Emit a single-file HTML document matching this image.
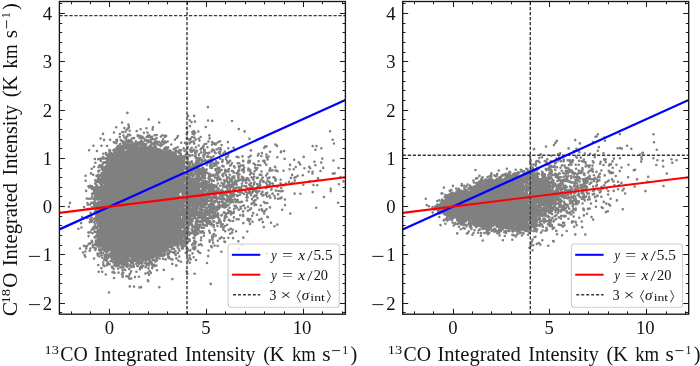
<!DOCTYPE html>
<html><head><meta charset="utf-8"><style>
html,body{margin:0;padding:0;background:#fff;width:700px;height:366px;overflow:hidden}
svg{display:block}
text{font-family:"Liberation Serif",serif;fill:#111}
.t{opacity:0.999}
</style></head><body>
<svg width="700" height="366" viewBox="0 0 700 366">
<defs>
<clipPath id="c0"><rect x="59.4" y="1.5" width="286.00" height="312.70"/></clipPath>
<clipPath id="c1"><rect x="402.70" y="1.5" width="286.00" height="312.70"/></clipPath>
</defs>
<g clip-path="url(#c0)">
<path d="M117.4 266.8L115.6 266.5L114.5 265.4L114.2 263.9L114.0 263.6L114.0 262.1L114.5 261.1L113.5 260.1L113.5 259.9L111.6 259.5L110.1 257.8L109.9 257.8L108.8 256.6L108.8 256.1L108.5 255.9L108.5 254.6L108.8 254.4L108.8 253.9L110.8 252.1L110.8 251.6L110.2 250.9L110.1 250.8L109.6 251.2L107.1 252.5L105.6 252.5L105.4 252.2L104.9 252.2L103.5 250.9L103.5 250.4L102.9 250.2L101.8 249.1L101.8 248.6L101.5 248.4L101.5 247.1L101.1 246.8L100.6 246.8L99.1 245.0L98.1 245.5L96.4 245.2L95.2 244.1L95.0 242.6L94.8 242.4L95.0 240.6L96.1 239.5L96.8 239.4L96.8 237.9L96.2 237.4L96.2 236.9L96.0 236.6L96.0 234.9L96.2 234.6L96.5 233.4L97.5 232.4L97.2 232.1L97.2 230.9L97.5 230.6L97.5 230.1L99.0 228.9L99.0 228.4L99.8 227.4L99.5 227.1L99.5 226.1L99.8 225.9L98.4 225.5L96.8 223.9L96.5 222.9L96.0 222.4L96.0 221.9L95.8 221.6L95.8 220.4L96.2 219.4L95.2 218.4L95.2 217.9L95.0 217.6L95.0 216.1L95.2 215.9L95.2 215.4L96.2 214.4L96.2 213.9L97.4 212.8L98.6 212.5L99.0 212.1L98.5 210.9L98.5 209.6L99.0 208.6L98.9 208.5L98.1 209.2L97.6 209.2L97.4 209.5L96.1 209.5L95.9 209.2L95.4 209.2L93.5 207.4L93.2 205.9L93.0 205.6L93.0 204.6L93.2 204.4L93.2 203.9L94.4 202.8L94.9 202.8L95.1 202.5L97.1 202.5L98.1 201.5L100.4 201.0L100.5 200.4L99.9 200.0L99.6 200.2L97.6 200.2L97.4 200.0L97.1 200.2L96.1 200.2L95.9 200.0L95.4 200.0L94.2 198.9L94.2 198.4L94.0 198.1L94.0 196.9L94.5 195.6L93.2 194.1L93.2 193.6L93.0 193.4L93.0 192.1L93.2 191.9L93.5 190.4L94.6 189.2L95.9 189.0L96.2 187.9L97.4 186.8L97.9 186.8L98.1 186.5L99.4 186.5L99.6 186.8L100.0 185.9L101.0 184.9L99.6 184.5L98.4 183.0L97.9 183.0L96.8 181.9L96.8 181.4L96.5 181.1L96.5 179.9L96.8 179.6L96.8 179.1L97.9 178.0L98.4 178.0L98.6 177.8L100.4 177.8L100.6 178.0L101.2 177.4L101.2 176.9L100.8 176.4L100.8 175.9L100.5 175.6L100.5 174.6L100.8 174.4L100.8 173.9L101.9 172.8L102.4 172.8L102.6 172.5L103.9 172.5L104.4 172.0L104.9 172.0L105.1 171.8L106.4 171.8L106.6 172.0L107.1 172.0L107.6 172.5L108.0 171.9L105.6 171.0L104.5 169.9L104.5 169.4L104.0 168.4L104.2 166.6L107.0 164.1L107.2 162.9L108.4 161.8L109.9 161.5L110.2 160.9L109.2 159.9L109.2 159.4L109.0 159.1L109.0 158.1L109.5 157.1L108.0 155.9L108.0 155.4L107.8 155.1L108.0 153.4L109.1 152.2L109.6 152.2L109.9 152.0L111.1 152.0L111.4 152.2L111.9 152.2L112.4 152.8L112.9 152.8L114.5 154.4L114.5 154.9L115.1 155.0L115.0 153.4L115.2 153.1L115.2 152.6L116.4 151.5L116.9 151.5L117.2 151.1L116.0 149.9L116.0 149.4L115.8 149.1L115.8 147.6L116.0 147.4L116.0 146.9L118.4 144.8L120.1 144.5L120.4 144.8L120.9 144.8L122.1 146.0L122.5 144.6L123.9 143.2L124.4 143.2L124.6 143.0L126.1 143.0L126.4 143.2L126.9 143.0L128.1 143.0L130.1 144.0L132.4 142.8L134.1 143.0L135.1 142.0L135.6 142.0L135.9 141.8L137.4 141.8L137.6 142.0L138.1 142.0L139.2 143.1L139.2 143.6L139.5 143.9L139.2 145.6L138.1 146.8L137.9 146.8L137.9 147.0L138.4 147.0L139.4 146.5L140.4 146.5L140.6 146.8L141.0 145.6L142.1 144.5L142.6 144.5L142.9 144.2L144.6 144.2L144.9 144.5L145.4 144.5L146.5 145.6L147.1 147.2L148.4 145.8L149.6 145.2L150.6 145.2L150.9 145.5L151.4 145.5L153.1 147.0L154.4 146.5L155.4 146.5L155.6 146.8L156.1 146.8L157.9 148.2L159.4 148.2L160.6 148.8L161.8 149.9L162.1 152.0L163.1 151.0L163.6 151.0L163.9 150.8L165.1 150.8L165.4 151.0L165.9 151.0L166.6 151.8L168.1 150.0L168.6 150.0L168.9 149.8L170.1 149.8L170.4 150.0L170.9 150.0L171.9 151.0L173.1 151.8L174.4 151.8L174.6 152.0L175.1 152.0L176.8 153.6L177.0 155.1L177.9 156.0L178.4 155.5L178.9 155.5L179.9 155.0L181.4 155.0L181.6 155.2L182.1 155.2L183.2 156.4L183.2 156.9L183.5 157.1L183.5 158.1L183.2 158.4L183.2 158.9L182.8 159.4L182.8 159.9L184.8 161.6L184.8 162.1L185.0 162.4L185.0 163.6L184.8 163.9L184.8 164.4L185.5 166.1L185.5 167.6L185.2 167.9L185.0 169.1L184.0 170.1L184.5 170.9L184.5 171.4L186.0 172.9L186.0 173.4L186.2 173.6L186.2 175.6L186.0 175.9L186.2 176.1L186.2 177.9L186.0 178.4L186.4 178.8L187.6 177.5L188.1 177.5L188.4 177.2L190.1 177.2L190.4 177.5L191.6 177.5L191.9 177.8L193.9 177.8L194.1 178.0L194.6 178.0L196.4 176.2L197.0 176.1L196.9 175.8L196.4 175.8L195.2 174.6L195.0 173.4L194.8 173.1L195.0 171.4L196.1 170.2L197.1 170.0L198.4 168.5L198.9 168.5L199.1 168.2L200.1 168.2L200.6 168.5L201.1 168.0L201.6 168.0L201.9 167.8L203.6 168.0L204.8 169.1L204.8 169.6L206.2 170.9L206.2 171.4L206.5 171.6L206.5 172.6L206.2 172.9L206.2 173.4L205.8 173.9L206.0 174.1L206.0 175.4L205.5 176.4L204.6 177.2L204.1 177.2L203.9 177.5L202.9 177.5L202.0 177.1L201.0 176.1L200.4 174.0L200.2 174.6L199.1 175.8L198.6 175.8L198.2 176.1L200.1 176.5L201.2 177.6L201.2 178.1L201.5 178.4L201.2 180.1L200.2 181.1L200.2 181.6L198.8 183.1L199.1 183.2L199.4 183.0L200.1 183.0L202.6 180.5L203.9 180.2L204.1 180.0L205.4 180.0L205.6 180.2L206.9 180.5L208.0 181.6L208.0 182.1L208.2 182.4L208.2 183.4L208.0 183.6L208.6 184.2L210.1 184.2L210.4 184.5L210.9 184.0L211.4 184.0L211.6 183.8L212.6 183.8L212.9 184.0L214.1 184.2L215.5 185.6L215.5 186.1L215.8 186.4L215.5 188.1L214.4 189.2L213.8 189.4L213.5 190.4L213.6 190.5L214.1 190.0L214.6 190.0L214.9 189.8L215.9 189.8L216.1 190.0L216.6 190.0L217.4 190.8L218.0 191.9L218.0 192.9L217.8 193.1L217.8 193.6L217.0 194.4L217.0 194.9L215.9 196.0L215.4 196.0L215.1 196.2L213.9 196.2L213.6 196.0L213.1 196.0L211.5 194.4L211.5 193.9L211.2 193.6L211.2 192.6L211.5 192.4L209.4 192.0L208.0 190.6L207.6 189.5L205.9 191.2L204.1 191.5L203.9 191.2L203.4 191.2L202.2 190.1L201.8 188.4L201.1 188.0L200.6 188.0L199.2 189.4L199.9 189.8L201.4 190.0L202.5 191.1L202.5 191.6L202.8 191.9L202.6 193.2L203.1 193.5L203.6 193.0L204.1 193.0L204.4 192.8L205.6 192.8L205.9 193.0L207.1 193.2L209.5 195.6L209.5 196.1L209.8 196.4L209.5 198.1L207.6 200.0L205.8 200.4L206.4 200.5L207.5 201.6L207.5 202.1L207.8 202.4L207.8 203.9L207.5 204.1L207.5 204.6L206.4 205.8L205.8 205.9L205.2 206.9L204.1 208.0L203.6 208.0L203.4 208.2L202.1 208.2L201.9 208.0L201.4 208.0L199.6 206.2L198.5 206.6L198.8 206.9L198.8 207.9L198.5 208.1L198.5 208.6L197.5 209.6L197.8 209.9L197.8 210.4L199.5 211.9L199.8 213.4L201.6 213.8L202.6 214.8L203.6 214.5L203.8 214.1L203.5 213.9L203.5 212.9L203.8 212.6L203.8 212.1L204.2 211.6L204.2 211.1L205.4 210.0L205.9 210.0L207.6 209.2L209.1 209.2L209.6 209.5L209.8 209.4L208.5 208.1L208.5 207.6L208.2 207.4L208.2 205.4L208.5 205.1L208.5 204.6L210.6 202.8L211.1 202.8L211.4 202.5L212.6 202.5L212.9 202.8L213.4 202.8L214.5 203.9L214.8 205.1L215.5 205.9L215.5 206.4L215.8 206.6L215.5 208.4L214.4 209.5L213.9 209.5L213.6 209.8L212.6 209.8L212.4 209.5L212.1 209.8L210.0 209.6L211.0 210.6L211.0 211.1L211.2 211.4L211.0 213.1L208.9 215.5L208.4 215.5L208.1 215.8L206.9 215.8L206.5 216.1L206.8 217.1L207.9 217.5L209.0 218.6L209.5 219.9L209.2 221.6L208.1 222.8L207.6 222.8L207.4 223.0L205.6 222.8L204.1 221.8L202.6 221.5L201.5 220.4L201.2 219.1L200.9 218.8L199.1 218.5L198.0 217.4L197.6 215.8L197.4 216.0L196.1 216.0L195.9 215.8L195.4 215.8L194.9 215.2L193.6 215.8L192.4 215.8L192.1 215.5L191.6 215.5L190.6 214.5L190.0 214.9L191.2 216.1L191.2 216.6L191.5 216.9L191.5 218.4L191.2 218.6L191.2 219.1L190.1 220.2L189.6 220.2L189.4 220.5L188.4 220.5L187.4 220.0L186.9 221.0L185.6 222.2L185.0 222.4L184.8 223.4L183.8 224.4L183.8 224.9L182.6 226.0L182.1 226.0L181.9 226.2L179.8 226.1L181.0 227.4L181.2 229.1L183.1 230.8L183.5 229.9L183.8 228.1L184.9 227.0L185.4 227.0L185.6 226.8L186.9 226.8L187.1 227.0L187.6 227.0L188.8 228.1L188.8 228.6L189.0 228.9L189.0 230.1L188.8 230.4L189.0 230.6L189.0 232.1L188.8 232.4L188.8 232.9L187.6 234.0L187.1 234.0L185.6 235.8L185.1 235.8L184.9 236.0L183.5 235.9L183.8 236.4L183.5 238.1L182.1 239.5L181.6 239.5L181.4 239.8L180.4 239.8L180.1 239.5L179.5 240.1L180.0 241.1L180.0 242.4L179.8 242.6L179.2 244.6L178.1 245.8L176.4 246.0L176.1 246.2L174.9 246.2L173.9 245.8L172.4 247.2L170.6 247.5L169.8 247.1L168.8 246.1L168.8 245.6L168.2 244.9L167.9 244.8L167.5 245.1L167.5 246.4L167.2 246.6L167.2 247.1L166.1 248.2L165.5 248.4L165.2 250.1L164.1 251.2L162.9 251.5L162.5 251.9L162.0 252.9L162.2 253.4L162.2 254.6L162.0 254.9L162.0 255.4L160.9 256.5L159.1 256.8L158.1 257.8L156.4 258.0L154.9 257.2L153.1 259.0L152.6 259.0L152.4 259.2L150.9 259.2L149.9 260.2L149.4 260.2L149.1 260.5L147.4 260.5L147.1 260.8L145.1 260.8L144.9 260.5L144.4 261.0L143.9 261.0L143.6 261.2L142.1 261.2L141.9 261.0L141.4 261.0L140.6 260.2L140.2 260.6L140.0 261.6L138.9 262.8L138.4 262.8L138.1 263.0L137.1 263.0L136.9 262.8L136.4 262.8L135.6 262.0L134.6 262.0L134.4 261.8L133.1 261.5L132.0 260.4L132.0 259.9L131.8 259.6L131.8 258.6L132.0 258.4L131.6 258.0L131.1 257.8L129.1 257.8L129.0 257.9L129.5 258.4L129.5 258.9L129.8 259.1L129.5 260.9L127.6 262.8L126.4 263.0L126.0 263.4L125.8 264.4L124.6 265.5L124.1 265.5L123.9 265.8L122.6 265.8L121.4 265.2L120.4 264.2L119.9 264.2L119.6 264.0L119.2 265.4L118.1 266.5L117.6 266.5L117.4 266.8ZM123.0 148.1L122.8 148.1L123.0 148.1ZM125.0 150.9L125.9 150.5L126.6 150.5L126.8 150.1L126.1 149.5L125.6 149.5L124.9 149.0L123.9 148.8L123.8 148.9L124.2 149.4L124.2 149.9L124.5 150.1L124.5 150.9L125.0 150.9ZM117.0 156.9L116.9 156.5L116.8 156.9L117.0 156.9ZM189.9 177.0L188.6 177.0L188.4 176.8L187.9 176.8L186.8 175.6L186.8 175.1L186.5 174.9L186.5 173.4L186.8 173.1L186.8 172.6L187.2 172.1L187.2 171.6L188.6 170.2L189.1 170.2L189.4 170.0L190.8 170.1L190.0 169.4L189.8 167.6L190.0 167.4L190.0 166.9L191.1 165.8L191.9 165.5L193.1 164.0L194.6 163.8L195.0 163.4L195.2 162.1L196.4 161.0L196.9 161.0L197.1 160.8L198.9 161.0L200.5 162.6L200.5 163.1L200.8 163.4L200.5 165.1L199.4 166.2L198.1 166.5L197.5 168.1L196.1 169.5L195.6 169.5L194.4 170.8L193.9 170.8L193.6 171.0L192.6 171.0L192.4 170.8L192.0 170.9L193.0 171.9L193.2 173.1L193.5 173.4L193.2 175.1L192.1 176.2L191.6 176.2L189.9 177.0ZM191.8 170.6L191.5 170.6L191.8 170.6ZM200.8 173.4L200.5 173.4L200.8 173.4ZM181.2 179.9L181.5 178.9L181.1 178.2L181.0 179.9L181.2 179.9ZM183.5 189.1L184.9 187.8L185.5 187.6L184.8 186.9L184.8 186.4L184.5 186.1L184.5 184.9L184.8 184.6L184.8 184.1L185.9 183.0L187.8 182.6L186.1 181.2L185.1 182.2L184.6 182.2L184.4 182.5L183.4 182.5L183.1 182.2L182.8 183.9L181.8 184.9L182.4 185.0L183.5 186.1L183.5 186.6L183.8 186.9L183.8 187.9L183.2 188.9L183.2 189.1L183.5 189.1ZM188.5 182.9L188.2 182.9L188.5 182.9ZM198.2 183.6L198.5 183.4L198.4 183.2L198.0 183.4L198.0 183.6L198.2 183.6ZM103.5 184.6L103.4 183.5L102.5 184.4L103.4 184.8L103.5 184.6ZM222.6 196.8L220.9 196.5L219.8 195.4L219.5 193.9L219.0 192.9L219.2 191.1L220.4 190.0L220.9 190.0L221.1 189.8L222.9 190.0L224.2 191.4L224.2 191.9L224.8 192.4L224.8 192.9L225.0 193.1L225.0 194.4L224.8 194.6L224.8 195.1L223.4 196.5L222.9 196.5L222.6 196.8ZM181.5 197.9L182.4 197.0L182.9 197.0L183.1 196.8L184.4 196.8L185.4 197.2L185.8 196.6L185.8 196.1L184.9 195.5L184.6 195.8L182.9 195.5L181.8 194.4L181.5 192.9L181.1 192.5L180.4 192.5L179.8 193.1L179.2 195.1L179.9 195.2L181.0 196.4L181.2 197.9L181.5 197.9ZM102.2 194.1L101.1 193.2L101.0 193.4L101.4 194.0L101.9 194.2L102.2 194.1ZM198.8 195.6L198.6 195.2L198.0 195.1L198.6 195.8L198.8 195.6ZM230.1 202.2L228.6 202.2L228.4 202.0L227.9 202.0L226.8 200.9L226.8 200.4L226.5 200.1L226.5 198.9L226.8 198.6L226.8 198.1L228.1 196.8L228.6 196.8L228.9 196.5L230.6 196.8L232.0 198.1L232.0 198.6L232.2 198.9L232.2 200.1L232.0 200.4L232.0 200.9L230.9 202.0L230.4 202.0L230.1 202.2ZM199.8 198.6L199.1 197.5L199.0 198.1L199.6 198.8L199.8 198.6ZM181.2 198.6L181.1 198.2L181.0 198.6L181.2 198.6ZM180.5 200.4L181.0 199.6L180.9 199.0L180.2 200.1L180.2 200.4L180.5 200.4ZM205.5 200.1L204.6 199.8L204.5 199.9L204.6 200.2L205.5 200.1ZM183.8 209.1L184.6 208.8L186.1 208.8L187.6 207.0L188.1 207.0L188.4 206.8L190.1 207.0L191.1 208.0L191.6 208.0L191.8 207.4L191.5 207.1L191.5 205.9L191.8 205.6L191.8 205.1L192.2 204.6L192.2 203.6L191.9 203.5L191.5 203.9L191.5 204.4L190.1 205.8L189.6 205.8L189.4 206.0L188.1 206.0L187.9 205.8L187.4 205.8L186.2 204.6L185.8 203.4L185.6 202.0L185.2 203.1L184.2 204.1L184.8 204.6L184.8 205.1L185.0 205.4L184.8 207.1L183.6 208.2L183.1 208.2L182.5 208.6L183.1 208.8L183.6 209.2L183.8 209.1ZM225.1 208.5L223.4 208.2L222.2 207.1L222.2 206.6L222.0 206.4L222.0 205.1L222.2 204.9L222.2 204.4L223.4 203.2L223.9 203.2L224.1 203.0L225.4 203.0L225.6 203.2L226.1 203.2L227.2 204.4L227.2 204.9L227.5 205.1L227.2 206.9L225.9 208.2L225.4 208.2L225.1 208.5ZM180.8 208.6L181.5 208.4L180.6 208.0L180.0 208.1L180.4 208.8L180.8 208.6ZM181.5 218.6L182.2 218.4L182.1 216.0L181.0 216.1L181.2 216.6L181.2 218.1L181.0 218.6L181.5 218.6ZM102.2 223.9L102.0 223.9L102.2 223.9ZM195.9 235.8L194.1 235.5L193.1 234.8L192.0 233.6L191.8 231.9L192.0 231.6L192.0 231.1L193.1 230.0L194.5 229.6L194.5 229.1L194.2 228.9L194.5 227.1L195.6 226.0L197.4 225.8L197.6 226.0L198.1 226.0L199.2 227.1L199.5 228.9L199.2 229.1L199.2 229.6L198.1 230.8L197.5 230.9L197.8 232.4L198.0 232.6L197.8 234.4L196.6 235.5L196.1 235.5L195.9 235.8ZM101.8 233.6L101.5 233.6L101.8 233.6ZM124.5 258.4L124.8 258.1L124.6 258.0L124.2 258.1L124.2 258.4L124.5 258.4Z" fill="#808080" fill-rule="evenodd"/>
<path d="M0 0m207.9 107.1h0m-80.5 5.8h0m60.6 3h0m6.1 0h0m-72 6.6h0m26.6-3.1h0m10.5 3.1h0m30.5-2.2h0m1.8 1.8h0m3.5-0.5h0m13-1.1h0m4.1 0.4h0m19.9 0.1h0m-115.8 6.3h0m8.2 0.8h0m3.8 0.2h0m0.2-3.8h0m0.5 3.1h0m0-1.2h0m17.6 1.8h0m6.4-0.8h0m33.8 0.5h0m3.2-1.8h0m15.9 0.9h0m-102.8 6.9h0m11-1.4h0m5.9 1.5h0m2.5-2h0m0.5 0.2h0m2.6-0.4h0m1.2-2.1h0m1.4 4.9h0m1.5 0.1h0m0.1-3.9h0m7 0.3h0m3.9-1.8h0m3.3 3.4h0m3.6-0.1h0m5.1-3h0m34.2 4.2h0m0 0.7h0m0.6-2.4h0m4.9-0.1h0m0.3 1.7h0m0.7-0.9h0m0.2 0.9h0m0.3-2.6h0m0.3 3.4h0m1-1.7h0m3.2-1.3h0m40.5-2.4h0m5.8 2.3h0m85.5-0.1h0m-229.5 7.2h0m3.5 1.4h0m6-0.1h0m6.3 0.2h0m0.3 1h0m0.3-1.1h0m2.8-2.9h0m1 3.1h0m1.1 0.8h0m1.6-5.3h0m1 1.9h0m1 0.9h0m0.7 0.7h0m0.6-2.4h0m0.6-0.3h0m1.6 4h0m1.2-5.2h0m1 4.7h0m1.4-1.6h0m1.5-0.2h0m3.6-2.1h0m0.1-0.7h0m1.8 2.6h0m0.5-0.1h0m0-1.9h0m0.6 1.7h0m0.3-1.1h0m0.7 2h0m0.8-1.8h0m1.2 1.5h0m1.4 2.4h0m0.5-0.9h0m1.1-2.7h0m0.2 3.9h0m0.8-0.4h0m0.3-4.6h0m0.4 4.8h0m0.3-3.7h0m0.2 3.3h0m0.3-5h0m1.5 1.5h0m0.5 3.6h0m0.1-2.5h0m0.7 0.5h0m0-1.6h0m0.5 2.1h0m2.1-3.6h0m0.3 3.9h0m1.7-4.1h0m0 3.1h0m4.3-1.6h0m1.7-1.4h0m0.5 4.1h0m1.8-2.4h0m0.1-1.1h0m1.1 0.1h0m8.9 3.7h0m2-1.8h0m0.9-1.8h0m9 2.8h0m0-0.5h0m1.9 0.9h0m0.9 0.7h0m0.8-1h0m1.6-1.9h0m2.2 0.6h0m1.4 2h0m3-0.8h0m0.8 1.8h0m1.2-3.6h0m8.7-1.6h0m0.2 3h0m39.8 0.4h0m13.8-1.3h0m69.4 2.3h0m-239.1 6h0m8 0h0m5.5 0.2h0m6.9-3.7h0m0.4 0.1h0m2.1 0.8h0m0.5-2.2h0m1.2 5.1h0m1.8-1.1h0m0.3-0.9h0m0.5 2.4h0m1.5 0h0m0.3-5.1h0m0.6 1.5h0m0.3 3.9h0m0.1-1.1h0m0-1.2h0m0.3-2.8h0m0 3.8h0m1.2-3h0m1.3-1.1h0m0.8 2.9h0m0.4-3.2h0m0.3 3.4h0m0.6-2.1h0m0.2 2.2h0m0.6 0.5h0m1.1 0.1h0m0.1-3.2h0m0.2 3h0m0.8-0.4h0m0.1-0.1h0m0.7-2.5h0m1.3 2.2h0m1.3-0.3h0m0.7-0.8h0m0.3-1h0m0.1-0.7h0m0.9 1.2h0m0.5 2.8h0m0.4-1.4h0m0.4 0.6h0m0.3 0.1h0m0.2-0.6h0m0.6-1.8h0m1.1 0.8h0m0.4 2h0m0.5-4h0m0.2 2.5h0m0.4-0.1h0m0.3-0.1h0m0.5 1.6h0m0-3.1h0m0.5 0.6h0m1.7 2.2h0m0.2-0.7h0m0.2 0.4h0m0.1 0.1h0m0.1 1.1h0m0.1-1.3h0m0 1.5h0m0.6-1.4h0m1.9-2.2h0m0.2-0.1h0m0.3-0.5h0m0.5 5.1h0m0.1-5.5h0m1.5 4h0m0.1-2.6h0m0.6 2.7h0m0.7-2h0m0.9 0.5h0m1.1-0.8h0m0.3 1.4h0m0 1.2h0m0.1 0.4h0m0.5-4.8h0m0.6 2.4h0m0-0.6h0m0.4 3.6h0m1.1-5h0m0.5 2.1h0m1 1.1h0m0.8-2.7h0m1.2 3.3h0m0 0.7h0m0.6-2.8h0m1-1.8h0m0.1 3.5h0m1.8-1.6h0m0.2-1.5h0m0.8-0.3h0m0.9 0.8h0m1.8-0.9h0m3.5 3h0m10-1.8h0m3.8 0.2h0m1.6 1.5h0m2.9-0.8h0m0.2-0.8h0m1.8-0.9h0m2.1-0.7h0m0.6 2.4h0m0.1-0.6h0m4.4 2.5h0m4.4 0.8h0m0.2 0.6h0m0.2-0.9h0m1-1.7h0m1.8-0.5h0m2.2-2.3h0m3.5 3.1h0m0.3-2.5h0m1.7 1.5h0m1.7 0.8h0m0.3-0.9h0m2.1-1.3h0m1.9-1h0m1.6 3.9h0m6.3-3h0m37.2 4.4h0m1.3-0.1h0m9-1.9h0m1.6 1.4h0m35.7 0.2h0m3.8 0h0m17.4-2.6h0m-244.8 6.8h0m7.9 0.7h0m12.4-1h0m0.1 1.1h0m0.2 1.5h0m0.4-2.1h0m0.8 2.5h0m2.5-2.6h0m0.9-0.7h0m0.7-0.5h0m0.4 2.5h0m1.2-3.4h0m0.1 0.4h0m0.2 4.2h0m0-3.4h0m0.4-2.5h0m0.7 4.9h0m0.6-0.8h0m3.1-2.1h0m1.5 1h0m0.4-0.4h0m0.3-2.1h0m0.5-0.1h0m0.9 4.9h0m0.4-4.3h0m0 3.9h0m1.5-3.1h0m0 0h0m0.8 1h0m0.1-0.2h0m9.4-1.3h0m0.7 0h0m1.2-0.7h0m2-0.2h0m4.3 0.6h0m0.2-0.6h0m0.1 0.9h0m0.3 0h0m2.3-1.3h0m2.7 0.5h0m0.6 0.3h0m2.3 0h0m2.4 0.9h0m0.6 0.9h0m1.2-0.3h0m1.4 0.4h0m1 1.6h0m0.7-1.1h0m1.9 1.4h0m0.7-2.8h0m0.2 0.6h0m0.6 2.8h0m0.3-3h0m0.1 0.7h0m0.1 0.6h0m0.1 1.9h0m0.2 0.3h0m0.1-5.3h0m1.4 0.8h0m0.2 1.1h0m0.5 2.5h0m0.2-4.4h0m0.4 3.6h0m0.7 0h0m1-0.5h0m1.1 1.4h0m0.9 0.9h0m0.2 0h0m1.4-3.7h0m0.7 3.1h0m0.7-3.1h0m0.1 3h0m0.4-1.8h0m0.1-2.3h0m1.3 3.3h0m0.6-4h0m0.7 5.1h0m0.6 0.5h0m0.3-1.4h0m0.2-1.4h0m0.5 1.7h0m0.4-1.3h0m0.8-0.2h0m2.5-1.9h0m0.9 2.5h0m1.9-1.4h0m0.7 2.8h0m0.5-4.7h0m0.1-0.4h0m2.2 2.6h0m0.7 1.4h0m0.1-1.1h0m0.8 1.8h0m0.1-4.1h0m0.9 2.9h0m0.1-0.1h0m1.3-0.1h0m0-0.7h0m1.1 3.1h0m0.8-5.7h0m0.6 4.7h0m0.2-1.1h0m0.3 0h0m3.6-1.3h0m0.3 2.9h0m0.1-3.5h0m0.3 3.7h0m0.5-4.4h0m1.2-0.3h0m1.1 4.1h0m0.1-2h0m0.4 0.5h0m0.1 1.2h0m0.1-1.6h0m2.6-2.8h0m1.6 5.4h0m2.7-1.3h0m0.9-1.8h0m1.4 0.7h0m0.8 1.9h0m1.9-2.7h0m2.1-1.1h0m0 4.4h0m0.2-0.2h0m0.1-0.6h0m1.1-0.2h0m0.3-3.4h0m0.2 1.4h0m4.1 1.7h0m3.5-3.2h0m0.7 4.3h0m2.6-1.3h0m1.9-3.6h0m1.4 2.2h0m16 0.5h0m13.3-2.7h0m5.9 4.1h0m10.8 0.5h0m0.2-0.7h0m3-0.5h0m31.3-1.3h0m5.9-1.5h0m-226.4 10.7h0m4.6-0.3h0m2-0.2h0m1.2 0h0m0.5-1.4h0m0.1-3.4h0m0.9 4.7h0m1.7-5.3h0m0.1 5.2h0m0.2-3.5h0m0.7-0.2h0m0.6 3.6h0m0.3-1.3h0m0-1.5h0m0.2 0.1h0m0.3 2.4h0m0.4 0.3h0m0.3-4.3h0m0.3 1.6h0m0.7 2.9h0m0.6-0.7h0m2.1-3.6h0m0.5 1.1h0m0.6-1.9h0m0.6-0.3h0m0.2 0.2h0m0.7 3.8h0m0.2-1.1h0m0.2-2.5h0m0.2 0.4h0m0 1.4h0m2.1 0.7h0m43.5-2.9h0m14.3 1.4h0m0 1.7h0m0.7 0.1h0m0.2 0.5h0m1.5 0.6h0m0.6-0.4h0m0.3-0.6h0m1.5-0.4h0m0.1-1.3h0m0.2-0.7h0m0.7 4.3h0m0.3-1h0m0 0.1h0m0.5 0.3h0m0.5-1.4h0m0.9 2.1h0m1.2-0.7h0m0.1-1.6h0m0 1.6h0m0.1-1.9h0m0.7-1.5h0m0.9-0.4h0m0.2-0.5h0m0.2 3.6h0m0.8 1.3h0m0.9-3.2h0m0.6 0.1h0m0.5 0.8h0m2.4-0.6h0m2.7 1h0m0.3-1.4h0m0.6 3.3h0m0-1.4h0m1.7 2.1h0m0.4-0.6h0m0.3 0.6h0m0.3 0h0m0.1-4.7h0m0 4.2h0m0.2-3.3h0m1.1 3h0m3.2-2.1h0m0.3-1.1h0m0.1 2.7h0m1-3h0m2-1.6h0m0.3 3.7h0m0.7-0.6h0m0.6 0.5h0m0.1-3.3h0m0.8-0.2h0m1.5 4.3h0m1.1 0.5h0m1.8-1.7h0m2.1-3h0m4.4 5.5h0m0.1-4.4h0m3.2-0.8h0m2.6 5.4h0m0.1-1.8h0m0.5-3.5h0m1.4 2.8h0m0.3-2.1h0m8.4 2.5h0m1.8 0.5h0m4-0.9h0m6.2 0.9h0m1.9-1.4h0m7.3-0.3h0m0.7-1.9h0m2.7 2.3h0m0.6-2.9h0m4.5 1.5h0m0.1 2.6h0m2-0.6h0m8.8 0.6h0m7.3 1.7h0m19.1-2h0m18.6 1.7h0m-226.9 4.2h0m2.8-3.6h0m2 0.1h0m0.6 1.6h0m1.8 3.5h0m0.1-0.7h0m0.6-1.2h0m0 0.2h0m0.4-0.1h0m0.8-0.3h0m1 0.1h0m0.3 0.6h0m0.4-0.7h0m0.2-3.1h0m1 1.6h0m0.6 2.8h0m0.1-3.6h0m0.4 0.9h0m0 1.3h0m1.4-3h0m1.2 2.6h0m0.3-1.6h0m69.8-0.6h0m0.8 1.5h0m1.2 1.5h0m0.2 2h0m0.2-1.7h0m0-1h0m0.5-0.5h0m0.3 0.7h0m0-2.3h0m0.2 2.4h0m0.3 0.1h0m1.7 0.6h0m0.3-0.7h0m0.3-0.6h0m0.2 1.5h0m0.3-0.2h0m0-0.2h0m0.1-3.7h0m0 2.4h0m0 2.4h0m0.9-1.6h0m0.2 1.1h0m0-0.7h0m0.9 0.7h0m0.2 1.1h0m0.8-2.2h0m0.9-1h0m0 0.8h0m0.9 1.5h0m2.4 1.2h0m0.9-2.2h0m0.3 1.1h0m0.3-2.5h0m1 3.8h0m0.5-4.8h0m0.2 1h0m0.2-1.9h0m0.1 2.9h0m0.6 2.1h0m0-4.8h0m0.1 4.2h0m0-0.4h0m0.4-3.6h0m0.8-0.3h0m0.1 5.5h0m0.9-1.2h0m0 0.8h0m0.2-3.3h0m0.3-1.3h0m0.7 1.8h0m0.2-0.5h0m0.1-0.3h0m1.9 0.3h0m0.3-1.1h0m1.2 2.9h0m0.9-1.9h0m0.4 2h0m0.7-0.6h0m0.2-0.6h0m0.4-1.4h0m0.7 2h0m1 2.2h0m0.1-2.3h0m0.2 1.5h0m0-4.7h0m1.1 0h0m0.2 1.9h0m1.2 2.2h0m0.4 0.4h0m2.1-0.4h0m0.1-1.9h0m0.4 1.3h0m0.8-0.2h0m1 0.5h0m3.9-1.1h0m0.5-2h0m0 1.5h0m4.5-0.5h0m0.2 2.5h0m1.5-0.9h0m1.4-1.6h0m1.8 2.4h0m5.7 0.1h0m1.5 0h0m3.8-2.6h0m0.4 0.6h0m4.7 1.2h0m0.6-1.6h0m0 1.4h0m0.3-0.4h0m0.4 0.7h0m0.6-1.7h0m3.6 2.6h0m1.6 1.4h0m3.5-3.6h0m4.6-0.4h0m1.1-0.2h0m0.5 2h0m1.4 2h0m1.3-5.3h0m22.5 5.5h0m4.1-5.2h0m4.6 2.7h0m1.4 2h0m14.2-2.6h0m6.8 0.8h0m12.2-2.1h0m-241.6 8.3h0m2.3-2.1h0m4.4 0.5h0m0.3 3.7h0m0.1-3.9h0m0.1-0.2h0m0.4 3.8h0m0-4.8h0m0.6-0.5h0m1.3 1.7h0m0.4 0.2h0m0.1 1.4h0m0.2 0.7h0m0.3-3.5h0m0.1-0.7h0m0.2 4.7h0m0.3-1.9h0m0.2 2.8h0m0.1-0.2h0m0.1-3h0m0.5 0.5h0m1.4-0.1h0m0.1-0.8h0m0.2 2.6h0m0.3-3.2h0m1.1-1h0m0.6 4.7h0m0.9 0.4h0m74.1-0.4h0m1.6-1.6h0m0.7-2.2h0m1.1 2.9h0m1-2.3h0m0.4 0.5h0m0.9 0.4h0m0.3 2.7h0m0-3.9h0m0.1-0.9h0m0 2.4h0m0.2 0.9h0m0.5-1.1h0m0.7-0.8h0m0.1 3.4h0m0.1-1.5h0m0.1-0.9h0m0.9 0.5h0m0 0.2h0m0.3-0.1h0m0.3-2.1h0m1.2 3.7h0m0.1-5.1h0m0.1 4.3h0m0.3 0.1h0m0.6-1h0m1.9 2.1h0m0.3-2.5h0m0.2-1.6h0m1-1.5h0m0.1 0.1h0m0.5 5.5h0m0.1-0.4h0m0.4-1.1h0m0.2-0.2h0m0-0.5h0m0.2-3h0m0.1 3.7h0m0.4-3.3h0m0.3-0.9h0m1.3 4.3h0m1.1-1.5h0m0.6 0.2h0m0.4-0.1h0m0.2 2.4h0m0.3-1.8h0m1.6 2h0m0.1 0.1h0m0.8-1h0m0.5-0.2h0m0-4.4h0m3.2 0.6h0m0.6 2h0m0.9-2.4h0m0.5 2.6h0m1.8-1.9h0m0.2-0.4h0m0.9-0.4h0m0.7 4.9h0m0.1-1.1h0m0.8-3.7h0m0.7 3.8h0m0.6-1.3h0m1.1 2.7h0m0.5-2.4h0m0.2-0.2h0m0.9 2.5h0m1.3-0.4h0m0.6-4.1h0m1.3 0.5h0m1.6 4.4h0m0.1-0.9h0m3.1 0h0m0.6-0.8h0m1.2-3.5h0m0.5-0.3h0m1.2 5.7h0m2.1-4.7h0m0.6 1.1h0m4.2-0.6h0m0.1 3h0m0.2 1.2h0m0.2-4.6h0m0.1 1h0m1.6-1.8h0m0.9 4.3h0m1.3-4.5h0m0.5 3.4h0m0.1 1.5h0m0.4-2.8h0m4.1 2.8h0m0.1-1.7h0m1.6 1.3h0m5.2-2.1h0m1.1 2h0m1-1.7h0m0.7-3.1h0m2.3 0.2h0m9 5.2h0m0.9-2.1h0m0.6 2.3h0m1.7-0.3h0m2.4-3.5h0m0.4 0.5h0m0.3 3.2h0m1 0.3h0m6.9-0.1h0m6.1-1.5h0m4.1 0h0m2-2.2h0m8.7 1.2h0m4.8-1.3h0m1 1.4h0m5.2-3h0m7.8 2.6h0m15.4 0.1h0m-253 7.7h0m5.4-2.3h0m2.2 1.4h0m3.3 1.1h0m1-0.5h0m0.2 1.2h0m0.5 0.1h0m0.1-5.2h0m0.3 3.4h0m0.6 1.3h0m0.4-0.2h0m0.8-0.8h0m1.1-1.8h0m0.3 1.9h0m0.4-2h0m0.1 2.9h0m0-2.3h0m0.1-0.5h0m1.9 0h0m0.4-2.4h0m0.1 2.3h0m0.3-2h0m0.8 1.3h0m0.3 0.2h0m2.4 0.5h0m0.4-0.6h0m0.3-1.1h0m73.7-0.6h0m0.6 1.3h0m0.8 0.8h0m0.2 2.1h0m0.4-0.7h0m0.1 0.2h0m2.1-1.2h0m0.3 0.4h0m0.4 2.7h0m0.1-5.6h0m0.1 4.4h0m0.3-2.8h0m1.3 3h0m1.5-3.5h0m0.3-0.1h0m0.2 1.1h0m0.1 2.1h0m0.1-2.8h0m0.6 3.4h0m0.3-1.5h0m0.7 2h0m0.1-0.5h0m0.2-0.8h0m0.8-3.5h0m0.2 0.9h0m0.3-1.3h0m0 0.9h0m0.2 0h0m0.5-0.2h0m0.2 0.8h0m0.4 2.1h0m0-1.1h0m1.3 1.2h0m1.5 2.1h0m0-4.2h0m0.4 1.7h0m1.4-2.3h0m0 0h0m0.7 2.1h0m0.1 0.2h0m0.3 1.6h0m0.6 0.4h0m1-0.5h0m0.5-0.7h0m0.1-1.1h0m0.8 1h0m1-2.7h0m1.1 0.5h0m1.7 0.9h0m0.3 1.8h0m0.5 1.3h0m0-3h0m0.5 1.3h0m0.3-0.4h0m1.3 1h0m1.1-1.1h0m1.1 1h0m1.6-1.2h0m0.3 0.1h0m0.9-2.4h0m0.4 1.3h0m0.4-1.2h0m0 2h0m0.5 2h0m0.4 0.3h0m0.6-4.3h0m0.4 0.1h0m2.7 2.8h0m0.9 1.1h0m0.1-2.4h0m0 2.1h0m1.9-3.5h0m0.9 2.6h0m1-4h0m1.5 0.3h0m1.2 3.4h0m2.7 2.1h0m0.8-5.6h0m0.5 1.5h0m0.6 3.6h0m2.2-3.3h0m1.4 1.7h0m0.2-1.2h0m0.1-2.2h0m1.2 3.1h0m2.6 2.2h0m1.8-4.6h0m6.2 2.4h0m0.6-2.6h0m0.7 1.2h0m2.4 1h0m0.5 2.7h0m0.4-5.5h0m5.1 3.5h0m1.6 0.1h0m0.2-3.4h0m4.6 4.1h0m1.3-2.1h0m10.2-2.2h0m14.5 3.6h0m5.6 0.9h0m5.1-0.5h0m5.9-3.5h0m3.8-0.1h0m0 1.8h0m8-2.5h0m12.4 2.6h0m1.7-0.2h0m5.9 3.6h0m-254.8 3.8h0m9.6-0.4h0m1.4 1.6h0m0.1-1.1h0m1.2 0.5h0m0.1-2.2h0m0.5 2.3h0m0.2-4.2h0m0 2h0m0.3-0.8h0m0.2-0.2h0m2.6 0.2h0m0.2 0.1h0m0.2-0.3h0m0.3-0.7h0m0.1 4.6h0m76.8-2.6h0m0.2-2.2h0m0.2 1.4h0m0.6 2.2h0m1.2-3.9h0m0.3 5.5h0m0.1-0.2h0m0.2-1.3h0m0.1-2.9h0m0 1.3h0m0.3 1.7h0m1.4 0.5h0m0.7-4.5h0m0.3 2.9h0m0.2-3h0m0.3 2.5h0m0.2 0.3h0m0.7 0.8h0m0.6 1.1h0m0.1-2.3h0m0.7-1.4h0m1-0.4h0m0.3 4.1h0m0.6-3.3h0m0.1 3.8h0m0.9-3.7h0m0.8 0.3h0m1.3-0.2h0m2.2 0.3h0m1.1-1.4h0m0.6 5.2h0m0.4-5.5h0m0.1 0.2h0m0.7 4.1h0m0.6 0.2h0m0.5-0.3h0m0.5-1.8h0m1-1.5h0m0.3 1.5h0m1-1.8h0m0.6 4.4h0m0.5-1.1h0m0.3-2.7h0m0.5-0.7h0m0.7-0.7h0m0.6 3.7h0m0.1-2.9h0m1.3 3.8h0m1.3 0.4h0m0.7-3.6h0m0.4-1.1h0m0.2 5.1h0m0.3-3.1h0m0.2 0.7h0m0-2.7h0m1.1 2.3h0m0.9 0.1h0m0.6 1.2h0m1.7-0.2h0m1.1-3.3h0m1.2 0.3h0m1 0.1h0m0.1 1.2h0m0 1.2h0m0.7-2.6h0m1.5 0.5h0m0.4 1.2h0m0.3-0.2h0m0.5 0.2h0m0.9 3.3h0m2.5-2.7h0m0.3 2.7h0m0.4-1.1h0m1.6-0.9h0m0.6-1.4h0m0.2 2.3h0m0-4.2h0m1.9 0.2h0m0.2 4.1h0m0.8-2.4h0m0.1-0.1h0m1 2h0m0.3-2.2h0m0.6 0.9h0m0.4 2.8h0m1.8-4.5h0m0 4.5h0m0.4-0.9h0m0.9-1h0m0.7-0.1h0m0 1.8h0m1.9-5.4h0m0.2 3.7h0m0.1-1.8h0m0.1-1.7h0m0.2 3.1h0m1.5-0.4h0m1.5-2.3h0m0.9 2.4h0m0.1 1h0m0.1-3.4h0m0.3 0.8h0m0.2-0.6h0m1.3 2.1h0m1.2 2.6h0m0.4 0.3h0m0.1-3.5h0m0.2 0.7h0m0.4-2.1h0m1.1 0.6h0m1.2 2h0m1.6 2.4h0m0.7-5.7h0m1.1 1.2h0m0.5-0.5h0m0.2 1.8h0m1.1 2.6h0m2.4-4.5h0m1-0.2h0m2.3 3.5h0m1.3-1.9h0m1.2-1.7h0m0.2 3.5h0m0.4 0.9h0m0.5-0.5h0m3.7-0.5h0m0.2-2.6h0m1.7 3.5h0m0.1-4.3h0m4-0.4h0m1.3 0.7h0m0.6 2.7h0m0.6-1h0m4.6 0.2h0m8.4 2.1h0m1.9-4h0m3.6-0.2h0m0.2 2.9h0m1-3.3h0m14 3.9h0m8.2-2h0m0.2-0.8h0m25.3 3h0m-255 4.8h0m0.9 1.3h0m1-1.6h0m1.3 1.7h0m0.1-1.3h0m0.1 2.1h0m0.2-2.1h0m1 1.2h0m0.1-0.3h0m0.5 1.7h0m0.5-0.3h0m1-5h0m0.4 3.6h0m0.6-2.7h0m0.1 3h0m0.5-2.1h0m1.5 1.6h0m0.4 0.8h0m0.4 0.3h0m0.8-5h0m0.4 0.5h0m0.1-0.1h0m0.4-0.2h0m0.3 3.2h0m0.7-2.8h0m0 1.2h0m0-0.6h0m78.6 0.6h0m1.6 1.4h0m0.2 0h0m0.1-2.9h0m0.3 4h0m0.1-4h0m0.1 3.2h0m0.2-2.4h0m0.4-1h0m0.2 3.7h0m0.3-1.5h0m0.2 1.4h0m0.8 2.1h0m0.2 0.1h0m0.3-4.3h0m0.2 1.3h0m0.1-1.3h0m1.1 2.7h0m0-4.1h0m0.3 0.2h0m0.2 0.4h0m1.3 0.3h0m8.4 0.3h0m0.2 0.2h0m1.6 3.3h0m0.4-0.8h0m0.1-3.1h0m0.9 2.5h0m1.4 0.3h0m0-3.8h0m0.7 4h0m0.5 0.6h0m3.9 0.7h0m0.2-4.5h0m0.8 1.1h0m0.4 3.1h0m0.3-2.5h0m0.3 3h0m0.4-3.5h0m0.1 3.8h0m0.2-3.6h0m1.4 0.3h0m0.6-0.1h0m0.2-1.7h0m0.9 1.2h0m0 3.7h0m1.7-0.9h0m0.4-2.6h0m0.1 1.2h0m0.4-0.4h0m1.5-0.3h0m0.1 1.8h0m1.3-4h0m0.4 4.7h0m1.9-2.5h0m2.6-1.5h0m0 0.7h0m0.5 2.1h0m0.4-1.8h0m0 1.1h0m0.2 0.8h0m0.1-0.2h0m0.1 0.1h0m0.1-3.5h0m1.5 3.5h0m0.9-1.5h0m0.4 1.2h0m0.2 1.4h0m0.2 0.6h0m0.3-2.8h0m0.5-2.6h0m0.5 0.3h0m0.1 1h0m1 2.4h0m0.4 1.4h0m0-1h0m0.6-2.7h0m1.2 2.1h0m0.5-2.8h0m0.2 2.9h0m0.2-1.4h0m0.9-2.1h0m0.2 1.7h0m0.3-1.1h0m0.4 4.3h0m1.5-0.7h0m0.5-3h0m1.7 3.6h0m0.3-0.8h0m1.9 1.2h0m0.3-1h0m1-1.4h0m0.1-2.5h0m2.4 2.3h0m1.7 0.4h0m0.8 1.5h0m2.4-3.3h0m0.2 3.5h0m1.2-2.5h0m0.3 0.7h0m0.4 1.3h0m1.4-1h0m1.1-3.2h0m0.1 0.9h0m1.6 4.6h0m1.6-4.8h0m0.1 3.7h0m0.4-1.4h0m0 1.3h0m0.8-2.1h0m1.4 0.3h0m0.1-2.6h0m0.2 1.7h0m5.8-2h0m0.2 5h0m0.9-3.1h0m0.5 2.1h0m2.1-1.5h0m0.1-1.3h0m0.5-0.9h0m1.2 5.7h0m1.3-5.4h0m0.9 2.3h0m3.6 0.8h0m3.2-3.4h0m0.4 0.8h0m0.3 3.9h0m0.4-3.3h0m2.3 0.6h0m1.8-1.8h0m6.7-0.4h0m10.9 1.7h0m10.2 0.3h0m3.7 0.1h0m13.6 3.6h0m8.2-4.6h0m-252.9 6.7h0m6 2.8h0m0-4.6h0m0.5 4.9h0m0.4-0.7h0m1.1-2h0m0.6-1.2h0m0.2 0.5h0m0.4 4h0m1.1-4.6h0m0.9-0.8h0m2.2 4.2h0m0.2-0.8h0m0.6-0.7h0m0.3 3.1h0m1.1-2.9h0m0.6 0.3h0m0.6 2.5h0m0.5-0.6h0m74.8-0.7h0m0.2-0.4h0m0.5-1.5h0m2.1-0.4h0m0.8-2.2h0m0.6 4.5h0m0-3.3h0m0.1 1.5h0m0.2-1.2h0m3 3.8h0m12.7-0.7h0m0.3-3.2h0m0.3 0.2h0m1.7 0.1h0m0.5 1.1h0m0.3 2.3h0m0.4-2.5h0m0.1-0.2h0m0.4-1.6h0m0.1 0.7h0m0 3.9h0m0-4.6h0m0.9 2.2h0m0-0.5h0m0.6-0.7h0m0.3 0.6h0m0.5 2.2h0m0.2 0.2h0m0.1-3h0m0.1-0.9h0m0.7-0.8h0m1.1 5.5h0m0.1-1.6h0m0.4-0.9h0m1.1 0.4h0m0.1-2.4h0m0.4 0.5h0m1 2.9h0m0.1 1.4h0m0.9-3.3h0m0.6 1.2h0m0-1.2h0m0.6-0.9h0m0-1.8h0m0.6 5.3h0m1.5-2.9h0m0.3-0.6h0m1.7 1.1h0m0.1-1.4h0m0.1 2.6h0m0.2-1.4h0m1.4 0.1h0m0.5-2.4h0m1.1 3.1h0m0.9 2.4h0m0.2-3.8h0m0.6-0.6h0m0.6-0.6h0m0.5 1.2h0m1.2 1.9h0m0.8 0.9h0m0.4-0.1h0m0.1 1h0m0.6-3.4h0m0.7 2h0m0.5 0.4h0m0.3-1.9h0m0.7-0.2h0m0.5-1.7h0m0.2 1.1h0m0.1-0.1h0m1.2 2.4h0m0.1-3.5h0m0.9 4.4h0m0.4-1.7h0m0.8 1.2h0m0.3 0h0m0.9-0.1h0m0.1-4.2h0m0.9 4.9h0m0.1-3h0m0.7-1.4h0m3.2 2.2h0m1.5-2.5h0m0.1 5h0m0.3-2.7h0m1.8 0.7h0m0.3-2.6h0m0.7-0.4h0m1 4.3h0m1.4-2.6h0m0.7 0.6h0m0.3 0.1h0m1.3 1.1h0m1.4-2.7h0m0.3 1h0m0.5 1.7h0m1.1-1.2h0m1.3 0.8h0m0.3-1h0m0.5-0.8h0m0.8-1.7h0m0.5 1.1h0m1.8 1.5h0m0.7-0.7h0m0.5 1.6h0m1.9-1.8h0m1.8 2.9h0m1.1-1.7h0m0.3-0.3h0m3.5 1.5h0m0.2 1h0m1-1.5h0m4.1-3.1h0m1.2 4.2h0m0.1-0.4h0m3.3-3h0m2.2 3.8h0m0.4-3.4h0m2.1 0.2h0m2-0.3h0m12 2.7h0m5.8 0.2h0m12.3-1.7h0m18-1h0m-243.9 7.4h0m2 0.3h0m2.2-0.2h0m1.3-2.3h0m1.2 2.6h0m1.5-0.8h0m0-1h0m0.7-1.7h0m0.2 4.2h0m2.6-0.2h0m0.9-0.6h0m1.2-0.2h0m0.2 0.4h0m0.3 0h0m0.1 0.3h0m0.8-3.8h0m77 4h0m0.6-3h0m0.4 1.2h0m0.3-0.7h0m0.8 0.9h0m0.4 2.9h0m0.6-0.8h0m0.6-3.8h0m0.1 0.5h0m0.1-1.4h0m0.1 2.7h0m0.3-2.4h0m0.5 2.2h0m0.4 0.2h0m2.5-1.1h0m0.1 4h0m0-5.5h0m9.7-0.2h0m0.9 3.3h0m0.4-0.1h0m0.1-1.9h0m0.5 3h0m1.4 0.6h0m0.2-4.8h0m0.1 1.1h0m0.7 1.6h0m2.4 1.2h0m0.1-0.1h0m2.5 0.1h0m0.3 0.7h0m0.1 0.3h0m0.2 0.3h0m0.3-0.1h0m0.3 0.1h0m0.3-1.9h0m0 1.8h0m0.6-4.7h0m0.8 1.5h0m0.9 3.3h0m0.5 0.4h0m0.6-3.6h0m0 1.4h0m1 1.1h0m0-1.8h0m0.1-0.6h0m0 2.7h0m0-2.2h0m1 0.6h0m0.1-1.5h0m1.1-1h0m0.1 0.6h0m0.2-1.6h0m0.3 2.9h0m0.1 3.1h0m0.3-5.6h0m0.2 0.3h0m0.4 1.6h0m0.1-2.1h0m0.1 1.6h0m0.4 3.7h0m0.1-3.9h0m0.3 0.9h0m0 3.3h0m0.4-1.8h0m2.1-1.1h0m0.4 0.7h0m0.1-3.2h0m0.4 0.4h0m1.2 3.1h0m0.2-3.9h0m0.3 4.1h0m0.2-1.1h0m0.2-2h0m0.3 4.4h0m0.1-2h0m0.2-3.2h0m0.8 2.6h0m1.1 1.3h0m1.2 1h0m0.7 0.1h0m0.4-4.3h0m0.6 1.3h0m0.1 2.3h0m0.5-2.8h0m0 2.2h0m0.1-2.3h0m0.1 3.8h0m0.4 0.1h0m0.6 0.4h0m0.1-3.7h0m0.5 1.1h0m0.5 2.1h0m0.1-4.8h0m0.1 1h0m0.5 2.1h0m1.3 1.5h0m0.5-3.8h0m0-0.4h0m0.8 0.5h0m0.8 2.9h0m1.4 0.4h0m0.9-4.4h0m0 4.8h0m0.9-4.1h0m0.1 3.9h0m8.7-2.5h0m0.2 3h0m0.2-5.4h0m0.1 5.4h0m0.2-3.6h0m0.4 0.6h0m3.4-2.4h0m1.1 4h0m1.5-2.4h0m1.3-1.2h0m0.6 4.6h0m0.7-3.8h0m0.4-1.1h0m1 3.1h0m4.9-2.7h0m1.1-0.5h0m3.6 1.5h0m2.4-0.8h0m0.7 2h0m4.2-1.8h0m0.6 2.3h0m3 0.4h0m2.1-0.3h0m1.3-0.8h0m3.4 1.9h0m39-2.5h0m-255 9.8h0m1-3.9h0m17.6 0.2h0m0.4 1.6h0m2.3-0.2h0m1.2-1.7h0m1.8 0.5h0m0.1-0.7h0m0.7 2h0m0.1 2h0m0.5-5h0m0.2 1.8h0m1.7 0h0m2.1-1.4h0m0.2 0.1h0m1.4 0.2h0m1-0.4h0m0.4-0.6h0m77.5 5.4h0m0.1-5.5h0m1.1 5.2h0m1.2 0.6h0m1.3-3.5h0m0.6 1.6h0m0.3 0.2h0m0.2-2.8h0m0.2-1.1h0m0.9 4.3h0m0.1-0.2h0m0.9 0.8h0m0.2 0.4h0m0.3-1.2h0m0.2-3h0m0.3 1.5h0m1.1 0.1h0m0.1 2.2h0m0.1-1.2h0m2.1-2.4h0m0.2 2h0m1.3 1.4h0m0.6-3.8h0m0.2 4.4h0m0.7-2.6h0m4.5 1.1h0m0.9-0.2h0m1.9 0.6h0m1 0.7h0m1.6 0.1h0m0.1 0.2h0m0.3-0.2h0m0.3-5.1h0m0.4 4.2h0m0.5-0.7h0m1.2-0.5h0m0.3-0.8h0m0.1-2.1h0m0.3 0.2h0m1-0.4h0m0.8 3.9h0m0.6 1.9h0m0.9-2.7h0m1.7-1.6h0m1 0.9h0m0 0.5h0m0.6 0.5h0m0.4-3.2h0m0.2-0.2h0m0.2 5h0m0.9-4h0m0.2-0.8h0m2 5.3h0m0.7-4.4h0m0.2 0.2h0m0 3.4h0m0.4-0.9h0m0-2h0m0.3 0.7h0m0.3 1.3h0m0.3-3.3h0m0.3 5.3h0m1.4-1.1h0m0.6-3.9h0m0.3 0.2h0m0.1 4.2h0m0.1-1.4h0m1.1 1.9h0m0.4-2.5h0m0.1-1.6h0m0.8 4h0m0.2-3.4h0m1.1 1.4h0m0.4 2h0m0.1-0.3h0m0-1.1h0m0.1 0.5h0m0-0.3h0m0.2-3.6h0m0 3.5h0m0.5-3.7h0m1.2 3.1h0m1.9-1.9h0m2.1-1.6h0m1 0.9h0m1 3.4h0m0.9 0h0m0.4 0.3h0m0.3-3.9h0m1.3-1.1h0m1.2 1.2h0m1.8-0.1h0m0.2 4.6h0m1.4-4.9h0m1.1 4h0m0.9-0.3h0m4.1 1.2h0m3.4-2.6h0m0.4-0.6h0m1.8-2.1h0m0.6 1.8h0m0.3 1.9h0m1.6-0.4h0m4.6 0.8h0m3.1-3.5h0m1.3 1h0m2 0h0m17.8 2h0m53.1-2.2h0m-254 4.3h0m3 1.9h0m1.9-0.1h0m1.6 4h0m1.1-5.7h0m3.1 4.5h0m0.8-1.3h0m0-1.6h0m0.2 4h0m0.9-3h0m0.8 1.5h0m0.3-3.8h0m0.5 2.4h0m0.3 0h0m0.6-0.2h0m0.5-2.3h0m0.2 0.2h0m0.1 4.9h0m0.3-1.3h0m78.7-2.2h0m2 0.7h0m1.3-0.2h0m0.9-2h0m0.1-0.3h0m1.4 2.2h0m1.3 0.6h0m1.2-2.8h0m0.1 2.1h0m0.3-2h0m0.3 0.7h0m0.3-0.8h0m0 0.3h0m0.5 0.1h0m0.5-0.4h0m0.7 0.1h0m1.3 2h0m0.8-0.1h0m0.4-0.5h0m3.5 1h0m0.3 0.4h0m1-2.1h0m0-0.3h0m0.3-0.3h0m0.1 4.3h0m0.9 0.5h0m0.3-4h0m1.1 2h0m0.2-1.6h0m0.1 1.5h0m0.1-1.1h0m0.2-0.3h0m0.3 4h0m0.4-3.1h0m0.4-2.5h0m0 4.5h0m0.1-3h0m1.8 1.7h0m1.2 2.4h0m0.3-2.2h0m0.3-2.4h0m1.1 2.9h0m0.8-3.5h0m0.1 0.2h0m0.3 2.5h0m1.5 0.4h0m0.1 0.5h0m0.5 1.4h0m0.2-5.3h0m0.2 0.7h0m0.2 0.6h0m0.1 3.2h0m0.3-3.4h0m0 3.1h0m0.2-1.4h0m0.9 2.8h0m0.2-0.6h0m0.4-4.1h0m0 4.7h0m0.4-1.4h0m0.1-0.4h0m0.3-0.5h0m0.6 2h0m0.9-3.8h0m0.5 3.3h0m0.2-3.9h0m0.4 3.2h0m0.3-2.7h0m0.2 2.3h0m0.6-3.6h0m0.2 3h0m0-0.1h0m0.5-0.8h0m0.7-0.5h0m1.1-0.6h0m4.5 4h0m0.2 0.4h0m0.6-5.4h0m0 5.6h0m3.2 0.1h0m0.1-3h0m0.9 1.6h0m0.6-3.8h0m0.2 3.6h0m0.9 1.5h0m0.4-1.2h0m2.8 0.9h0m0-0.7h0m0.4-2.9h0m1.7-1.6h0m1 0.2h0m1.7 2.1h0m0.3 0.1h0m2.1-1.2h0m2.1 2.8h0m2.1-3.2h0m2.7 2.5h0m1.9-1.1h0m1.2-1.2h0m8.3 1.3h0m2.6-0.5h0m0.6 1.7h0m2.4 0.1h0m1.6-1.8h0m3.5-1.8h0m12.2 2.4h0m34-2.1h0m-234.2 9.4h0m5.5 0.9h0m0.1-0.9h0m3 1.6h0m0.8-1.3h0m2.4 1.4h0m1.8-0.7h0m0.5-0.8h0m0.1-0.4h0m0-0.9h0m0.3-0.6h0m0.4 2.3h0m0.4-4.3h0m0.2-0.1h0m1.3 0.5h0m80.6 2.7h0m0.2 1.9h0m0-2.2h0m0.5 1.2h0m0.9-3h0m0.4 0.4h0m1.6 0h0m0.3 2.9h0m0.1-0.2h0m0.1 0h0m0.1-1.3h0m3.9 2.3h0m1.3-3.3h0m0.6-1.8h0m0.3 3.7h0m0.1-0.8h0m0.3 1.2h0m0.1-0.2h0m0.5-4.3h0m0.3 2.8h0m0.9 0.1h0m0.2-1.5h0m0.3 1.7h0m0.1 2.9h0m1-2.8h0m0.5-2.2h0m0.5 4h0m0.2-1.3h0m0.9 1.5h0m0.5-2.9h0m0.9 3.5h0m0.3 0.1h0m0.6-1.1h0m0.2-3.4h0m0.6 2h0m0.4 1.4h0m0-4.6h0m1.6 4.2h0m0.5-3.4h0m1.4 4.4h0m0.1-5.4h0m0.4 2.8h0m0.8-1.8h0m0.2 0h0m0.3 1.5h0m0.6-2.4h0m0.2 3.4h0m0.1 0.7h0m0.9 1.3h0m0.2-4h0m0.9 3.9h0m0.1-4h0m0.4 3.9h0m1.1-4h0m0.5 3.1h0m0.3-2.3h0m0.3 0.2h0m0.4 2.7h0m0.3-0.1h0m1.1-0.9h0m0.6 1.4h0m0.1-1.1h0m0.1-1.9h0m0.2-0.1h0m0.8 0.7h0m0.8 1.6h0m0.4-3.9h0m0.2 0.3h0m0 2h0m0.4-2.1h0m0.9 2.6h0m0.3-1.3h0m1.1 0.4h0m0.3-1.9h0m0-0.4h0m0.2 4.1h0m0.1-2h0m0.9 3.4h0m2.2-3.4h0m0.6-0.6h0m2.6 3.9h0m0.2-0.7h0m0.1-1.8h0m0.6-3h0m0.4 1.3h0m0.6 2.4h0m1.4-3.6h0m3 1.1h0m2.1-1.1h0m0.9 4.1h0m6.3-2.1h0m2.9 0.6h0m0-1h0m4.9 4h0m4.1-3.2h0m1.1-2.6h0m3.8 1.7h0m4.5 4.1h0m2.6-5.5h0m3.2 3.3h0m0.7 0.6h0m22.3-3.7h0m-209.2 9.5h0m8.6-0.9h0m0.5-2.5h0m0.9 0.8h0m0.8 1.1h0m0.2-1.1h0m2.1 1.7h0m1.1 2.2h0m0-3.6h0m0.3-0.2h0m0.9 0.5h0m1-1.9h0m0.3 3.8h0m0.4 0.4h0m0.9 0.6h0m0.6 0.5h0m0.3 0.2h0m0.4-1.4h0m2.7-0.4h0m75.7 2.1h0m1.7-0.2h0m0.4 0.1h0m1-5.2h0m0.3 4.2h0m0.3-4.1h0m0.1 3.9h0m0-4.2h0m1.1 2.3h0m0.1 0.9h0m1.2 2.1h0m0.4-4.5h0m0.2 0h0m0.1-0.2h0m0.7 1.9h0m0.3 1.4h0m0.1-0.6h0m0.1-0.6h0m0 0.2h0m0.5 0.5h0m0.2 0.4h0m0.1-1.4h0m0.4 0.4h0m0.2-3.2h0m0.9 0.7h0m0.1 4.6h0m0-0.9h0m0.7-3.1h0m0.4-0.8h0m0.2 2.8h0m0.7 1.9h0m0.2-5.1h0m0 4.4h0m0.1-1.5h0m0.6 2.8h0m0.3-4h0m3.2 3h0m0.1-2h0m0.3 0.7h0m0.1 1.1h0m0.3-4.2h0m0.4 2h0m0.1 2.1h0m0-3.7h0m0.1 1.7h0m0.7 0.5h0m1.6-1h0m0.5 3.6h0m0-2.8h0m0.8-0.3h0m0.2-0.3h0m0.4 0.7h0m0.2-0.3h0m0.5-0.4h0m0.2-1.6h0m0.3 4.9h0m0.1-3.7h0m0.2 0.2h0m0 2.4h0m0.1 0.5h0m0.2 0.5h0m0.5 0.3h0m1.5-4.1h0m1.4 1.9h0m1.4 0.9h0m0.1-3.7h0m0.2 1.9h0m0.2 1.4h0m1.6 0.9h0m0-3h0m0.8 1.7h0m1.7 1.8h0m0.8-3.1h0m0.9 0.1h0m2.6 1.8h0m1.2-0.6h0m1.1-1.9h0m1-0.3h0m0.5 2.9h0m0.1-1.4h0m0.7 2.2h0m1.4 0h0m1.5-3.5h0m2.9 4h0m1.6-4.8h0m1.6 1h0m2.8 0.1h0m3.5-1.7h0m2-0.1h0m4.6 3.9h0m4.2-3.3h0m1.7 1.3h0m0.8 2.8h0m0.3-4.6h0m2.2 2.4h0m6.8-1.8h0m3.5 2.2h0m8.2 0.7h0m6.3 1.8h0m-198.9 4.1h0m3-1.2h0m10.3 2.3h0m1.1-1.5h0m0.8 0.5h0m0.2-2.1h0m0.3 2h0m1.1-1.8h0m1.1 1.2h0m0.7-1.2h0m0.5 1h0m0.4 2.3h0m0.3-4.7h0m1.1 4.5h0m0.1-4.3h0m0.1 0.2h0m0.1 0h0m0.4 0.2h0m0.2-0.4h0m0.1-0.3h0m0.1 3h0m1-3.3h0m77.3 2h0m0.3 0.5h0m1.3 0.4h0m0.2 2.2h0m0.2 0.3h0m0.5-4.3h0m0.1 0.7h0m0.9 0.6h0m1-1.6h0m0-0.1h0m0.1 1.6h0m0.4-1.4h0m0.7-0.6h0m0.1 1.6h0m0 3.2h0m0-1h0m0-0.8h0m2.5-1.2h0m0.3 3.3h0m0.2-1.7h0m0.2-3.3h0m0.2 0h0m0.1 3.5h0m0.1-1.8h0m0.2 0.2h0m0.1-2h0m0.2 3.1h0m0.6-3.3h0m2.5 4.1h0m0.4 0.8h0m0-0.7h0m0.1 1.1h0m0.1-3.6h0m0.1 0.2h0m0.8 0h0m1-0.5h0m0.2 4.1h0m0.7-2.9h0m0.3 1.9h0m0.4-4.5h0m0.6 4.8h0m0.1-4.9h0m0.5 1.5h0m0.5 2.9h0m0.6-1.1h0m0.4 1.6h0m0.6-5h0m0.2 2.5h0m0.2-2.5h0m0.7 0.9h0m1.7 1.9h0m1.5-0.2h0m0.6 0.2h0m1.6-2.5h0m0.7 0.4h0m0.6 0h0m2.2 5.1h0m2.6-5.5h0m2.1-0.3h0m0.1 2.2h0m0.1 0.1h0m0.9 3h0m0.2-0.1h0m2.4-4.2h0m3.4 0.5h0m0.7-0.9h0m1.6 1.9h0m0.1 2.2h0m0.2-1.2h0m1.5-2.4h0m3.8 3.8h0m2.1-1.1h0m1.8 0.9h0m31.1-2.6h0m10.7-0.8h0m-186.1 6.3h0m0.2 3.5h0m1.7-4h0m2.2 1.2h0m2-1.7h0m1.3 0.6h0m0-0.5h0m0.4 4.4h0m0-0.1h0m1.4-1.8h0m0.4-1.8h0m0.5-0.6h0m1.6 2.5h0m0.1-1.2h0m0.1 0.9h0m0.4 0.7h0m1.7 0h0m0.4-1.8h0m0.3 0.2h0m78.7-1.9h0m0.1 4.2h0m0.5-0.6h0m0.9-2.7h0m0.7-0.4h0m0.2-0.6h0m0.5 4.1h0m0.7 1.3h0m0.2-2.4h0m1.1 2.8h0m0.8-4.2h0m0.1-0.7h0m0.6 2.7h0m0.3-2.7h0m0.4 3.3h0m0.2-3.6h0m0.2 3h0m0.5-0.7h0m1.5-0.9h0m0.9-0.5h0m1.6 1h0m1 1.8h0m0.5-0.1h0m0.6-3.6h0m0.5 0.1h0m0 1.7h0m0.1 0.8h0m1.8-0.7h0m1.6-2.1h0m1.2 1.1h0m1.1-1.3h0m0 0.4h0m0.9-0.1h0m0.5 1.1h0m0.3 3.1h0m0-2.9h0m5.9-0.1h0m2.4 4.1h0m0.5-1.6h0m1.3-1.3h0m1.7 1.6h0m9.5-4.3h0m5 2.5h0m2-1.4h0m3.9-1.2h0m11.2 0.3h0m-155.5 9.3h0m0.2 1h0m0.4 0.8h0m2.3-5.5h0m0 0.5h0m1.2 3h0m0.2 0.6h0m0 0.9h0m1.6-3.8h0m0 1.8h0m0.2-2.3h0m80.1 5.2h0m0.3-3.8h0m0.1 1.9h0m0.1 1.1h0m0.3-3.5h0m1-0.8h0m0.7 4h0m0.1 0.9h0m0.5-2.1h0m0.4-1.4h0m0.2 1.1h0m0.2-2.9h0m0.2 4.8h0m0.1-4.8h0m0.5 3.9h0m0.3-4.2h0m0.7 3.1h0m0.5-0.2h0m0.2 1.9h0m0.3-1.8h0m0.3-2.3h0m0.5 2h0m0.3 0.3h0m0.2 2h0m0.1-1.6h0m0-1.2h0m0.4-1.6h0m0.4 0.7h0m0-1.2h0m0.9 5h0m1.1-3h0m0.1 1.1h0m0.4-1.4h0m0.4 1.3h0m0 0.5h0m3.7-3h0m0.8 4.7h0m0-1.7h0m0.1-2.7h0m1.5 4h0m5-1.9h0m0.3-2.6h0m8.4 4.1h0m0.1-1.5h0m2.5-1.7h0m0.3 1.6h0m0.6 2.7h0m0.2-5.8h0m4.5 3.8h0m1.9-2.2h0m1.8-1.2h0m2.5 0.8h0m0.4 3.4h0m0.7 0.3h0m3.2-4.1h0m4.7 0.3h0m5.4 3.2h0m4.9-3.7h0m-163.3 10.9h0m4.1-2.6h0m2 0.5h0m0.1 2h0m0.8-2.3h0m1.7-2h0m1.3-0.7h0m0.3 5.4h0m0.1-0.2h0m2.3-3.4h0m0.2 1.7h0m1.9 1.4h0m0.2-3.4h0m0.3-0.7h0m0.1-0.1h0m0.2 0.8h0m0.2 3.4h0m0.1-4.5h0m0.3 0.5h0m1.2 0.5h0m0.3 1.3h0m0.4-2h0m0.7 2.3h0m0.3 1.3h0m0.7-1.5h0m0.5-0.8h0m0.3-1h0m1.7 1.7h0m0.2 2.1h0m0.1-0.7h0m0.1 0.7h0m0.2 0.6h0m61.3-0.1h0m1-1.9h0m0.4 0h0m0.7-2.2h0m0.2-0.7h0m0.3 3.7h0m0-3.9h0m0.3 2.5h0m1.4 1.1h0m0.7-2.9h0m0.4 2.2h0m0.5 0.3h0m0.4-1.2h0m0 0.4h0m0.5 0.2h0m0.3 1h0m0.2-1.3h0m0.4 1.8h0m0.3-2.2h0m0.1 1h0m0 0.8h0m0.4-2.8h0m1.5-0.3h0m0.5 0.2h0m0.3 0.8h0m1.4-0.7h0m1.2 2h0m0.1 0.8h0m0.1-2.9h0m0.5-0.6h0m0.1 1.6h0m0.2 3.1h0m2.1-4.8h0m0.7 2.1h0m0.5 2.5h0m0.7-4.1h0m0.2 4.1h0m0.3-1.7h0m0.6-2.1h0m1.8 1.6h0m0.1-2.3h0m0.2 2.4h0m0.1-2h0m1.6 4.3h0m4.6-3.6h0m0.7 3.3h0m0.2-4.7h0m1.1 3.1h0m0.9-2.7h0m0.2 4.6h0m0.2-1.8h0m3.4-1.9h0m2-0.6h0m1 1h0m9.4 0.8h0m0.6 1.1h0m2.7-1.6h0m3.1 0.3h0m21.7 3h0m2.5-3.9h0m-158.9 7.5h0m2.4-1h0m4.4-0.8h0m5.7-0.8h0m2.1 3.6h0m1.5-3.4h0m0.9 3.4h0m0.2-2.9h0m0.7 2h0m0.1 0.2h0m0-1.6h0m0.1-0.5h0m0.3-1.4h0m0.8 0.3h0m1.2 3.4h0m1.2-2.2h0m1.6 3.7h0m0-3.1h0m0.9 1.1h0m0.8-1.9h0m1-0.7h0m0.9 4.7h0m0.1-1h0m1.4-3.4h0m0.5 2.4h0m0.2-0.9h0m48.6 1.8h0m0.5-1.7h0m0 2.3h0m1.2-3.8h0m0-0.2h0m1.3 3.6h0m0-1h0m0 2.2h0m0.3-2.3h0m0.4-1.5h0m0.1 1.4h0m0-1.3h0m0.4 3.6h0m0-0.4h0m0.4-4h0m1.2 0.6h0m0.4-1.7h0m0.7 5.2h0m0.2-5.4h0m0 4h0m0.4 1.8h0m1.1-1.5h0m0-2.8h0m1.5 1h0m1.2-2.6h0m1 3.3h0m1.1 0.6h0m0.2-3.8h0m0.2 3.7h0m1.1-1.5h0m0.4 3.2h0m2.1-1.6h0m1.5-2.3h0m6.3 2.2h0m0.9-3.6h0m0.7 1.8h0m0.9-0.8h0m2.1 0.2h0m2.2 3h0m1.8-4h0m3.6 1.7h0m0.6 1h0m1.8 0.9h0m8.3-2.5h0m12.8 1.3h0m45.5 1.8h0m-182.3 1.5h0m0.7 1.7h0m8.8 1.7h0m3.7-3.1h0m1.6 1.1h0m2.3-1.3h0m0.6 2.6h0m1.8 2.1h0m0.5-4.5h0m0.4 2h0m0.4 1.5h0m0.1-2.3h0m0.2 0.4h0m0.7 3.6h0m0.3-0.8h0m0.9-4.6h0m0 3h0m0.8-1h0m0.4-1h0m0.6-1h0m1.9 2h0m0.2 0.6h0m0.3 1.9h0m0.2 1.2h0m0.2-0.1h0m2.1-1.9h0m0.5 0.8h0m8-1.8h0m0.5-0.9h0m0.8 2.7h0m0.8-3h0m0.9 1.9h0m2.6 0.4h0m0.2 0h0m0.1 1.7h0m0.4 0h0m1.9 0.3h0m0.3-1.6h0m0.1-3.1h0m0.7 0.4h0m1.1 1.4h0m0.3 1.7h0m1.2 0.7h0m0.8-0.1h0m0.5 0h0m3.3-0.8h0m1.6-0.9h0m0.2 0.2h0m0.8 0.9h0m1.1 0.9h0m0.2-0.1h0m1.6-1.7h0m0.4 0.2h0m1.6 0.2h0m1.9 0.2h0m0.5-0.1h0m0.5 1.3h0m1-3.1h0m0 0h0m1.5 0.5h0m0.4 0.4h0m0.8 1.4h0m0.1-3.2h0m0.9-0.9h0m0.8 0.1h0m0.1 3.9h0m1.5-2.1h0m0.2 2.8h0m0.4-2.5h0m0.4-1.8h0m0 0h0m1.8-0.6h0m0 2.9h0m1.1-3.1h0m1.4 0.5h0m0.9 3h0m1.1-3.5h0m1.5 4h0m2.5-2.1h0m0.4 0.7h0m0.4-1.3h0m0.7 1.6h0m1.6 0.9h0m1.2 0.3h0m3.3-4.4h0m0.7 3.3h0m2 2.2h0m0.9-4.1h0m7.8-1.2h0m1 5.3h0m1.4-2.3h0m0.2-2.7h0m0.1 2.4h0m0.9 1.2h0m3-2h0m2.4 2.8h0m12.1-3.9h0m-109.9 9h0m4.9-2.6h0m0.1 2.4h0m1.1 1.2h0m2.5-0.8h0m0.2-1.3h0m0.8-0.8h0m0-0.9h0m0.7 2h0m1.1 0h0m1-3.2h0m0 0.2h0m1.3 5.2h0m1.5-4h0m0.9 2.5h0m0.4-2.9h0m0.6-0.2h0m0.4 4.4h0m2-0.8h0m1.2-0.3h0m0-2.7h0m1.1 0.2h0m1.6 1.6h0m1.7 0.6h0m1.4-0.1h0m0.1-2h0m0 2h0m1.2-3.3h0m0.2 4.6h0m0.4-1.4h0m0.2-3.2h0m0.1 3.8h0m0.3 1.5h0m0.3-3.3h0m1.9 2h0m0.9-0.6h0m0.2-2.8h0m0.2-0.9h0m0.9 1.5h0m0.5-1.2h0m0.1 0.6h0m0.1 4h0m0-3.9h0m0.7 0h0m0.1 3.7h0m0.5-1.4h0m0.2 2.3h0m0.1 0h0m2.3-3h0m0.3-2.5h0m0.5 1.4h0m0.2 3.3h0m0.1-4.1h0m0.1-0.3h0m0.4 4.3h0m1-4.7h0m0.4 2.4h0m0.6-0.7h0m0.6-0.7h0m0.4 0.2h0m0.2 3.8h0m0.4-2.7h0m0.9-0.4h0m0 3.5h0m0.8-0.9h0m1.9-2.5h0m0.7-1.7h0m0.1 5.1h0m0.4-3.5h0m0.3 1.3h0m1.3-0.9h0m0.9 2h0m0.4-3.1h0m1.1 0.8h0m0.6-0.1h0m0.4 0.9h0m0.2-1.2h0m0-1.3h0m1 2.9h0m0 1.6h0m1.6-1.1h0m0 1h0m1.3-4.3h0m0.9 4h0m16-1.7h0m3.9 1.5h0m0.1 0.2h0m4.6-3.8h0m8.9 0.9h0m17.2 0.3h0m-108.3 8.8h0m2.7-3.7h0m0.8 3.6h0m9.8-4.3h0m0.5 4.9h0m0.3-4.9h0m0.7 4.6h0m0.2-2.9h0m0.8 3.8h0m3.6-4.3h0m0.4 4h0m1.9-5.6h0m0 0.3h0m1.1 0.1h0m1.1 2.7h0m0.1 2.4h0m0.6 0.4h0m0.2-5.5h0m1.6 2.5h0m4-1h0m2 2.5h0m0.1-4.2h0m5.2 4.6h0m3.5-2.5h0m0.2-1.7h0m1.8 0.1h0m3.7-0.5h0m2.2 5.5h0m0.6-4.3h0m1.2 2.6h0m1.2 1.9h0m1.4-4.8h0m4.8 2.2h0m6.8-0.4h0m22.9 1.5h0m-80.9 3.1h0m8.2 3.5h0m8-3.7h0m0.4 0h0m0 0.8h0m0.3 1.8h0m3.7-0.7h0m1.6 0.4h0m0.6 0.4h0m0.7 1.6h0m0.3-4h0m0.4-1.1h0m1.2 5h0m3.8-1.4h0m3.9-0.3h0m6.5-3.3h0m3.6 1.3h0m38.3-0.8h0m7.3-0.3h0m43.9 0.6h0m-90.6 6.1h0m0.4 0.8h0m24.1-2.1h0m38.3 4.8h0m-80.9 2.5h0m4.2 0.2h0m5.4 0.9h0m1.7-0.4h0m18.2 0.2h0m-50.3 5.2h0" stroke="#808080" stroke-width="2.6" stroke-linecap="round" fill="none"/>

<path d="M187.00 314.2V1.5M59.4 15.67H345.4" stroke="#3a3a3a" stroke-width="1.4" stroke-dasharray="3.3 1.682" fill="none"/>
<path d="M59.4 229.40L345.4 99.90" stroke="#0000ff" stroke-width="2.2"/>
<path d="M59.4 212.87L345.4 177.26" stroke="#ff0000" stroke-width="2.2"/>
</g>
<g clip-path="url(#c1)">

<path d="M518.6 232.5L517.4 232.5L517.1 232.2L516.6 232.2L514.5 230.4L514.2 228.6L514.5 228.4L514.5 227.9L515.8 226.6L515.8 226.4L514.4 226.0L513.4 225.0L512.5 225.9L512.8 226.1L512.8 227.4L512.5 227.6L512.5 228.1L510.9 229.8L509.1 230.0L508.9 229.8L508.4 229.8L507.9 229.2L507.4 229.5L505.9 229.5L505.6 229.2L505.1 229.2L504.1 228.2L503.8 229.6L502.6 230.8L502.1 230.8L501.9 231.0L500.6 231.0L500.4 230.8L499.9 230.8L498.8 229.6L498.8 229.1L498.2 228.6L498.0 227.9L496.9 227.5L495.8 226.4L495.8 226.1L494.9 225.5L493.9 226.5L492.9 226.8L492.2 227.6L492.0 228.6L490.5 229.9L490.5 230.1L489.4 231.2L488.9 231.2L488.6 231.5L486.9 231.2L485.8 230.1L485.5 228.4L486.0 227.4L484.1 227.0L483.0 225.9L482.6 224.5L482.2 224.6L482.2 225.1L480.9 226.5L480.4 226.5L480.1 226.8L478.6 226.8L478.1 227.2L477.6 227.2L477.4 227.5L476.1 227.5L475.9 227.2L475.4 227.2L474.4 226.2L474.1 226.2L471.8 223.6L471.8 223.1L471.5 222.9L471.5 221.6L471.1 220.8L470.1 221.2L468.9 221.2L468.6 221.0L468.1 221.0L467.4 220.2L467.2 220.9L466.1 222.0L464.8 222.4L464.5 224.1L463.4 225.2L462.9 225.2L462.6 225.5L461.4 225.5L461.1 225.2L460.6 225.2L459.4 223.8L458.9 223.8L457.8 222.6L457.8 222.1L457.5 221.9L457.8 220.1L458.9 219.0L460.0 218.6L459.0 217.6L459.0 217.1L458.8 216.9L458.9 215.2L458.0 215.4L457.8 216.6L456.6 217.8L455.4 218.0L454.4 218.8L453.9 218.8L453.6 219.0L451.9 218.8L450.8 217.6L450.4 216.2L449.6 217.0L449.1 217.0L448.9 217.2L447.1 217.0L445.9 215.8L444.4 215.5L443.2 214.4L442.9 212.0L441.6 213.5L441.1 213.5L440.9 213.8L439.4 213.8L438.5 213.4L437.5 212.4L436.5 210.4L436.5 209.4L437.0 208.4L436.5 207.9L436.2 206.1L436.5 205.9L436.5 205.4L437.6 204.2L438.1 204.2L438.4 204.0L439.4 204.0L439.6 204.2L440.1 203.8L440.6 203.8L440.9 203.5L442.1 203.5L442.4 203.8L442.9 203.8L443.4 204.2L443.5 203.9L443.0 202.9L443.0 201.6L443.2 201.4L443.2 200.9L445.1 199.0L445.5 198.9L445.5 198.4L445.2 198.1L445.2 196.6L445.5 196.4L445.5 195.9L446.9 194.5L448.4 194.2L449.1 193.5L449.9 193.2L450.9 192.2L452.1 191.8L453.1 191.8L453.4 192.0L453.9 192.0L454.6 192.8L454.9 192.8L455.5 192.4L455.5 191.9L457.9 189.5L458.4 189.5L458.6 189.2L459.9 189.2L460.1 189.5L460.6 189.5L460.9 189.8L462.1 190.0L463.1 190.8L464.4 189.2L464.9 189.2L465.1 189.0L466.4 189.0L467.2 189.4L468.2 190.4L468.4 191.0L469.6 191.0L469.9 191.2L470.0 188.9L470.2 188.6L470.2 188.1L471.4 187.0L472.9 186.8L473.6 186.0L474.1 186.0L474.4 185.8L475.4 185.8L475.6 186.0L475.8 185.4L477.1 184.0L477.6 184.0L477.9 183.8L479.4 183.8L479.6 184.0L480.1 184.0L481.1 185.0L482.1 184.0L483.6 183.8L484.0 183.4L483.5 182.9L483.5 182.4L483.2 182.1L483.2 180.9L483.5 180.6L483.5 180.1L484.6 179.0L485.1 179.0L485.4 178.8L487.9 178.8L488.1 179.0L489.1 178.0L490.9 177.8L491.1 178.0L491.6 178.0L492.6 179.0L493.1 179.0L494.4 179.8L494.9 179.8L496.6 178.2L498.1 178.0L498.6 177.5L499.1 177.5L499.4 177.2L500.4 177.2L500.6 177.5L501.1 177.5L504.0 180.1L504.4 181.5L504.8 181.1L504.2 180.1L504.2 178.6L505.0 177.1L504.8 176.9L504.8 175.9L505.0 175.6L505.0 175.1L506.1 174.0L508.1 173.2L509.1 173.2L509.4 173.5L509.9 173.5L510.6 174.2L511.9 175.0L512.0 174.4L513.1 173.2L514.6 172.5L516.6 172.5L516.9 172.8L517.4 172.8L518.5 173.9L518.5 174.4L519.0 175.4L519.0 176.4L518.8 176.6L518.8 177.1L517.5 178.4L517.6 178.5L518.1 178.5L519.1 178.0L520.4 178.0L520.6 178.2L521.1 178.2L521.9 179.0L522.0 178.9L521.2 178.1L521.2 177.6L521.0 177.4L521.0 176.1L521.2 175.9L521.2 175.4L522.0 174.4L523.4 173.0L523.9 173.0L524.1 172.8L525.9 172.8L526.1 173.0L526.2 172.4L527.4 171.2L527.9 171.2L528.1 171.0L529.4 171.0L529.6 171.2L530.1 171.2L530.6 171.8L531.1 171.8L531.9 172.2L532.9 172.5L534.0 173.6L534.6 174.8L534.9 174.5L536.4 174.5L536.6 174.8L537.1 174.8L538.5 176.1L538.8 177.6L539.6 178.5L540.1 178.2L542.1 178.2L542.4 178.5L542.9 178.5L543.9 179.5L544.9 179.0L546.1 179.0L546.4 179.2L546.9 179.2L547.4 179.8L548.4 180.0L550.8 182.6L550.8 183.1L551.0 183.4L550.8 185.6L551.2 186.6L551.0 188.9L552.0 189.9L552.4 192.0L553.6 190.8L554.9 190.5L555.6 189.8L556.1 189.8L556.4 189.5L558.1 189.8L559.5 191.1L559.5 191.6L560.1 192.0L560.9 191.2L561.4 191.2L561.6 191.0L563.1 191.0L563.4 191.2L563.9 191.2L566.5 194.1L566.8 195.9L566.4 196.8L565.4 197.8L564.9 197.8L564.6 198.0L561.9 197.8L560.6 197.2L560.1 196.8L558.9 196.8L557.4 198.5L555.6 198.8L554.6 198.2L554.2 198.4L554.5 198.9L554.5 200.9L554.2 201.1L554.8 202.1L554.5 203.9L553.1 205.2L552.6 205.2L552.1 205.8L551.5 205.9L552.4 206.2L553.5 207.4L553.5 207.9L553.8 208.1L553.8 209.9L553.2 211.1L552.1 212.2L551.6 212.2L551.4 212.5L549.6 212.2L548.5 211.1L548.2 209.4L548.0 209.1L548.0 207.9L548.2 207.6L548.2 207.1L549.4 206.0L550.0 205.9L549.4 205.8L548.4 204.8L548.1 205.0L546.6 205.0L546.4 204.8L545.1 206.0L543.4 206.2L543.1 206.0L541.6 205.8L540.1 204.0L538.9 204.0L537.4 203.2L536.2 204.6L537.9 205.0L539.0 206.1L539.2 207.9L538.8 208.9L539.1 209.2L540.1 209.2L540.4 209.5L540.9 209.5L541.4 210.0L541.8 208.4L542.9 207.2L544.6 207.0L546.1 207.8L547.2 208.9L547.2 209.4L547.5 209.6L547.2 211.4L546.1 212.5L545.6 212.5L545.4 212.8L543.6 212.5L542.4 211.5L542.2 211.9L542.8 212.4L542.8 212.9L543.0 213.1L542.8 214.9L541.6 216.0L540.4 216.5L538.6 216.5L538.4 216.2L537.9 216.2L537.5 216.9L537.5 218.6L537.2 218.9L537.2 219.4L536.1 220.5L535.6 220.5L535.4 220.8L534.4 220.8L534.1 220.5L533.8 220.9L535.9 221.5L537.2 222.9L537.2 223.4L537.8 224.4L537.8 225.6L537.5 225.9L537.5 226.4L535.6 228.2L535.1 228.2L534.9 228.5L533.6 228.5L531.9 227.8L531.5 229.1L530.4 230.2L529.1 230.5L527.9 231.8L527.4 231.8L527.1 232.0L525.4 232.0L525.1 231.8L524.6 231.8L523.9 231.0L523.1 231.0L522.1 230.5L521.1 230.5L519.4 232.2L518.9 232.2L518.6 232.5ZM529.0 176.6L528.8 176.6L529.0 176.6ZM512.5 178.4L513.0 178.1L512.6 177.8L512.2 177.9L512.2 178.4L512.5 178.4ZM586.1 184.2L584.9 184.2L584.6 184.0L584.1 184.0L583.0 182.9L583.0 182.4L582.8 182.1L582.8 180.1L583.0 179.9L583.0 179.4L584.1 178.2L584.6 178.2L584.9 178.0L586.1 178.0L586.4 178.2L586.9 178.2L588.0 179.4L588.2 180.6L588.5 180.9L588.2 182.6L586.9 184.0L586.4 184.0L586.1 184.2ZM530.8 180.1L531.9 180.0L532.0 179.6L530.6 179.0L530.2 180.1L530.8 180.1ZM529.0 186.6L529.0 186.1L529.2 185.9L528.5 185.1L528.5 184.6L528.2 184.4L528.2 183.4L529.0 181.9L528.9 181.5L528.1 181.8L526.9 183.2L526.4 183.2L526.1 183.5L523.8 183.4L524.2 184.4L524.2 185.4L524.0 185.6L524.6 186.2L525.1 185.8L525.6 185.8L525.9 185.5L527.1 185.5L527.4 185.8L527.9 185.8L528.9 186.8L529.0 186.6ZM539.0 182.9L538.5 182.9L539.0 182.9ZM490.0 184.1L490.8 183.9L490.1 183.5L489.8 184.1L490.0 184.1ZM543.5 187.4L543.1 186.5L542.5 187.1L543.1 187.5L543.5 187.4ZM529.2 187.4L529.0 187.4L529.2 187.4ZM537.2 188.1L536.9 187.5L536.8 188.1L537.2 188.1ZM534.2 190.6L534.5 190.4L534.4 190.0L534.0 190.1L534.0 190.6L534.2 190.6ZM529.0 194.1L529.0 193.4L529.8 191.6L529.8 191.1L529.4 190.8L529.1 190.8L527.9 192.0L527.2 192.1L527.2 192.4L528.2 193.4L528.2 193.9L528.9 194.2L529.0 194.1ZM525.2 192.1L524.6 191.2L523.8 191.4L523.9 192.0L524.6 192.0L524.9 192.2L525.2 192.1ZM552.2 192.6L552.1 192.2L552.0 192.6L552.2 192.6ZM545.8 193.6L545.5 193.6L545.8 193.6ZM539.2 195.6L539.8 194.6L539.6 194.2L538.5 195.1L538.6 195.5L539.2 195.6ZM551.2 195.4L551.1 194.8L550.8 195.1L551.1 195.5L551.2 195.4ZM460.5 195.1L460.2 195.1L460.5 195.1ZM528.2 206.9L528.5 205.1L530.2 203.6L530.2 203.4L529.4 202.5L528.2 203.1L528.5 203.4L528.5 204.9L528.2 205.1L528.2 205.6L527.2 206.6L528.1 207.0L528.2 206.9ZM525.0 207.4L525.2 206.9L524.4 206.5L524.5 207.4L525.0 207.4ZM443.2 211.6L443.1 211.2L443.0 211.6L443.2 211.6ZM530.2 212.1L530.5 211.9L530.4 211.5L529.6 211.5L529.0 212.1L530.2 212.1ZM528.8 212.4L528.5 212.4L528.8 212.4ZM536.8 212.6L536.6 212.2L536.5 212.6L536.8 212.6ZM528.0 212.6L527.8 212.6L528.0 212.6ZM530.8 225.6L530.8 225.1L531.0 224.9L530.8 224.4L530.8 223.4L530.4 223.0L529.9 223.0L528.1 221.2L527.8 221.6L528.0 222.1L528.0 223.6L527.8 223.9L527.8 224.4L526.8 225.4L526.9 225.5L527.9 225.0L528.9 225.0L529.1 225.2L530.8 225.6Z" fill="#808080" fill-rule="evenodd"/>
<path d="M0 0m597.9 134.3h0m21.9-0.2h0m33.7 0.2h0m-96.7 6.6h0m18.4-0.8h0m20.3-3.4h0m1.1-0.2h0m7.7 1h0m0.7 3.3h0m-59 5.8h0m8-1.5h0m1.4-2.2h0m24.5 0.5h0m13-1.3h0m34.2 3.7h0m26.9-3.5h0m35.8-0.5h0m-155.9 7.4h0m0.2-0.1h0m34.5-0.7h0m5.3 3h0m2.5-2.7h0m2.3 2.3h0m0.7 1.3h0m18.4-1.5h0m1.1-3.7h0m18.8 1.1h0m2.5-0.1h0m1.5 0.5h0m9.6 0.1h0m11.2 4.2h0m14.3-3.2h0m-126.8 6.7h0m9.3 1.6h0m1.3-3.6h0m1.4 2.8h0m9.5-1.5h0m4.9 2.8h0m1.7-4.3h0m1 3.4h0m0.9 1.4h0m0.2-5.6h0m15.7 3.1h0m1.1 1.2h0m3.8-0.1h0m4.1-4.1h0m5.2 0.3h0m4.6 3.5h0m0.3-2.7h0m8.5-1.3h0m10.4 5.3h0m6.1-0.4h0m20.1-3.6h0m1.4 2.8h0m0.2 1.5h0m1.2-5.8h0m10.5 5.2h0m-123.2 3.2h0m0.1-1h0m0.2 1.2h0m0.1 2.4h0m0.2-3.9h0m2.6 4.4h0m2.5-0.7h0m0.1-2.2h0m0.8-0.6h0m1.5-0.1h0m1.3 1.2h0m5.2-1.2h0m0.9 3.6h0m0.7-2.7h0m0.9-2.6h0m1.2 5.7h0m2.4-3.8h0m4.1 1.9h0m1.2-0.5h0m2.3-1.9h0m2.6 0.5h0m2.6-1.7h0m0 1.8h0m4-1h0m1.5-0.1h0m0.5 0.7h0m0.8 2h0m0.1-2.4h0m0.8 4.3h0m1.1-2.8h0m0.5-1.8h0m2.7 4.5h0m3.1 0.1h0m0.3-4h0m2.8 0.4h0m1.8 0.4h0m0.2-2.1h0m1.5 2.5h0m0.3 1.4h0m7.1-2h0m0.8 1h0m6.5 1.3h0m0.6-1.9h0m2.8 3.2h0m0.6-5.4h0m1.4 0.1h0m0.2 2.4h0m0-2.8h0m3.9 5.1h0m1.4 0h0m1.5-3h0m3.9 3.4h0m12.1 0h0m12.7-3.2h0m15.1 3.4h0m1.1-4.7h0m5.5 0.4h0m8.6-1.4h0m0.8 3.5h0m4.2-2.6h0m-201 9.8h0m23.3 0.5h0m8-1.7h0m8.9 1h0m5.1 0h0m1.7 1.1h0m3.8-2.1h0m1.3 0.8h0m3.4-3.7h0m0.3 3.8h0m0.2-0.8h0m0.3 0.4h0m1-1.5h0m0.1 1.1h0m0.2-0.4h0m0.4 2.2h0m0.5 0.1h0m0.7 0.1h0m1-5.1h0m0.3 4.9h0m0.8-0.3h0m0.2-0.8h0m0.1-1.4h0m0.8 1.1h0m0.9-0.8h0m7 0.2h0m0.5 1.4h0m1.7-0.8h0m0.8-1.2h0m0.1 1.7h0m0.3-4.4h0m0.4 1.7h0m0.4 0.1h0m0.2 0.3h0m0.5-0.7h0m0.3-0.9h0m0 0.7h0m0.3 3.3h0m0.9-3.4h0m0.4 0.3h0m2 0.3h0m0-1.2h0m0.6 4.1h0m0.2-0.2h0m1.6-2.5h0m3.5 0.4h0m1.2 3.1h0m0.3-5.4h0m2.5 0.1h0m0.7 2h0m0.7 3.4h0m0.8-3h0m1 2.9h0m0.9-2.2h0m0.3-3.5h0m1.4 5.1h0m1.4 0.3h0m4.4-1.7h0m2.8 1.8h0m2.8 0.2h0m0.6-2.7h0m0.4 1.2h0m3-2.9h0m2-0.8h0m1.4 1.5h0m0.7-1.6h0m1.5 5h0m0.1-0.9h0m0.8-1.1h0m0.3 0.9h0m0-3.8h0m8.9 4.9h0m7.3 0.3h0m0.3-5.3h0m3.8 2.3h0m8.7-0.3h0m12.3 2.8h0m1.3-0.5h0m28.1-3.3h0m-183.7 9.4h0m10.1 0.4h0m1.6-1.7h0m0.2-1.4h0m0 3.3h0m3-1.2h0m0.9 0.9h0m1.5-0.5h0m0.4-1.6h0m3.4 2.7h0m1.2-1.2h0m0.5-0.4h0m0.6 0.4h0m0.1-0.5h0m0.3-0.1h0m1.1-0.3h0m1.3-0.8h0m0 2.1h0m0.1-0.4h0m0.5-0.6h0m2.1-1.2h0m1 1.1h0m0.1-3.2h0m0.6 3.6h0m0.2-2.9h0m0.4 3.3h0m0.7 0.8h0m0.2-0.6h0m1.1 0.2h0m0.2 0.5h0m0.4-2.2h0m1.2-0.8h0m1.6-0.1h0m1.2 1.3h0m0.2 1.7h0m0.1-3.2h0m0.3 3.1h0m0.2-4.2h0m0.5 3.9h0m0.3 0.3h0m0.3-3.7h0m0.9 3.1h0m0.5 0.7h0m0.7 0.4h0m0.2-5.4h0m0 4.5h0m0.5 0.9h0m0.7-1.5h0m0.3-0.4h0m0.1 0h0m0.2 0h0m0.4-1h0m0.1-0.7h0m0.5-1.9h0m0.1 1.5h0m2.6 0.9h0m0 0h0m0.1 3h0m0.1-4.6h0m0.4-0.1h0m0.1-0.8h0m0 3.9h0m1.3-3.8h0m0.7 4.1h0m1-2.6h0m1.2 0.7h0m1 1.7h0m0.1-0.5h0m0.6-2.2h0m0.1-0.3h0m1.8 3.1h0m0 0.3h0m0.3-2h0m0.1 0.7h0m0.3 0.9h0m0.4-0.7h0m0.9-1.2h0m0 3.2h0m0.6-2.9h0m0.7 0.2h0m3.1 1.6h0m0.1-3.7h0m0 2.3h0m0.4 0.2h0m0.1-2.3h0m0.4 4.2h0m0.1-2.4h0m1.9 0.5h0m0 0.5h0m0.1 2.1h0m3.4-1.5h0m0.5-0.6h0m0.7-1.8h0m0.5 0.1h0m0.4-1.2h0m0-0.3h0m1 4h0m0.2-1.2h0m0.1-2.6h0m1.9 3.2h0m1.3-1h0m0.5-0.3h0m0.2 1.4h0m0.1 1.9h0m0.2-3h0m1.5 2.7h0m0.2-2h0m0.4 1.7h0m1.2-3.1h0m0.5 0.2h0m3.4-0.5h0m0.3 3.7h0m0.2-3.7h0m1.8 1.4h0m0.2 1.7h0m1-3.5h0m0.6-0.4h0m0.3 4.4h0m0.2-3.5h0m0.7 2.8h0m1.2-4h0m1.6 4.2h0m1-3h0m0.5-1.1h0m0.6 0.5h0m0.6 4.4h0m0.2-2.6h0m0.3-1.1h0m0.8 0.2h0m2 2.8h0m0.1-1.9h0m1.3-1.4h0m2.2 0.2h0m0.5-1.9h0m0.6 0.2h0m0.3 0.2h0m1.6 2.9h0m0.1-0.8h0m0.3-0.1h0m0.2 1.5h0m3.6-2.6h0m1.2-1.5h0m0.3 4.8h0m0.2 0.7h0m3.1-4.8h0m1 3.6h0m2.5-3.4h0m2 4.3h0m1-1.9h0m0.6-0.5h0m4.7 1.6h0m5-2.8h0m1-0.5h0m0.5 1.1h0m1.8-0.4h0m2.8 3.2h0m4-4.9h0m28.4 5.6h0m18.6-3.1h0m-193.3 6.9h0m0.3 2h0m2.2-3.9h0m1.3-0.5h0m1.1 4.5h0m1.3-1.4h0m0.7 1.8h0m0.3-0.6h0m0.5-2h0m0.1-1.3h0m0 3.5h0m0.1-3.5h0m0.1 0.1h0m0.3 3h0m0.1-2.8h0m0.7-2.1h0m0.2 5h0m0.2-0.3h0m0.5-0.7h0m0.9 0.7h0m0.3-1.7h0m0.2-0.6h0m1.7 0.1h0m0.9 0.3h0m0.1-3.1h0m1.7 2.2h0m1.6-2.1h0m0 5.4h0m0.2-4.7h0m1 2.1h0m0.5 0.4h0m0.6 0.1h0m1.9 0.3h0m1.1-0.3h0m0.7-1.5h0m0.8 0.3h0m1-0.1h0m0.7-1.5h0m0 0.3h0m0.2 0.8h0m0.3-1.2h0m1.1 0.2h0m0.3 1.9h0m0.2 0.2h0m1.6 0.5h0m0.2-0.3h0m0.6-0.5h0m0.7 3.1h0m0.9-2.7h0m0.2-1.9h0m0.4 2.8h0m4.8-2h0m0-1.6h0m2.2 2.1h0m0.9-1.7h0m2 0.1h0m0 0h0m0.2 1h0m0.2-0.9h0m0.7 1.6h0m0.1 0.5h0m1.4-0.5h0m1.1-2h0m0.2 2.2h0m0.1-2.1h0m0.5 0.5h0m0.9-0.4h0m0.3-0.6h0m0.2 3.4h0m0.8-0.7h0m0.3-1.8h0m0.5 3.8h0m1 0.3h0m1.6 0.5h0m0.8 0h0m0 0.3h0m0.9-5.3h0m0.3 2.6h0m0.8-0.3h0m0.8 2.9h0m0.2-5.4h0m0.1 3.1h0m0-0.6h0m0.1 2.4h0m0-4.4h0m0.4 2.8h0m0.6 0.7h0m1.2-3.1h0m0.7 2h0m4.4-2h0m0.5 3.4h0m0.7-2.5h0m1.4 3.2h0m0.7-3.1h0m0.7 0.2h0m1.3 1.1h0m0.1-2.3h0m0-0.3h0m1.6 2.7h0m1.1-2h0m0.1-0.6h0m0.1 2.2h0m0.2-0.2h0m0.2-1.5h0m1.2-0.4h0m0.4-0.3h0m0.1 0.1h0m0.3 2.9h0m0.2-3h0m0.1 4.5h0m0.1-4.9h0m0.3 1.4h0m0.7 0.1h0m1-1.5h0m0.1 0.3h0m0.5 4.2h0m0.4-3.8h0m0.3 3.4h0m0.4 1.1h0m0 0.2h0m0.3-0.3h0m0.1-2.1h0m0.2-0.4h0m0.5 0.2h0m0.3 2.2h0m3.8-1.3h0m0.3-3.1h0m1.3-0.7h0m0 1.9h0m0.1 1h0m0.7-0.2h0m1 1.3h0m0 1.7h0m0.1-5.8h0m0.1 3.8h0m0.1 1.4h0m0.7-1.9h0m0.3 1.9h0m1.2-2.7h0m0.6 1.5h0m0.5-1.7h0m0.5 1.4h0m0.5-1.3h0m0.5-0.6h0m0.1 1.9h0m0.6-0.8h0m0.2-0.3h0m0.4-1.6h0m0.3 1.9h0m0 0.7h0m0.8 0.8h0m1.5-0.2h0m1.1 1.1h0m0.2-4.4h0m0.8 4.3h0m1.8-5.2h0m0 5.4h0m1.2 0.1h0m0.4-0.2h0m0.2-2.8h0m0.1 0.7h0m0.4-3.2h0m0.7 1.2h0m1.1 2.4h0m1.2-3.4h0m0.2 1.2h0m0.5 2.9h0m0.5-3h0m2.7 0.8h0m0.5 0.2h0m0.3 2h0m0.4-1.9h0m0.1 0h0m0.7 3.4h0m0.6-3.9h0m0.5 3.5h0m0.3-4.2h0m0.3 1.9h0m0.3 2.1h0m0.7-1.2h0m0.4-3.6h0m0.5 0.9h0m1.2 0.4h0m1.2 4.1h0m0.3-3.7h0m0.2 3.2h0m1.7-3.2h0m0.9 1.6h0m0.7-2.1h0m0.4-0.8h0m1.7 4h0m0.2-2.5h0m1-2.5h0m0.4 3.8h0m1-0.6h0m0.2-2.9h0m5.8 5.3h0m2.1-1.1h0m1.2-1h0m3.3-1.1h0m1.5 2h0m4.5 0.4h0m3.4 1.1h0m6.7-5.7h0m9 2.2h0m10.4 2.5h0m-203.6 5.7h0m9.1-1.7h0m3.2 2.7h0m2.6 0.3h0m2.9-3.1h0m0.1-1.8h0m2.4 1.7h0m0.1 2.6h0m2.1-1.7h0m1.2-2.1h0m1 4.3h0m0.4-0.5h0m0.1 0.3h0m0.2-0.7h0m0.5-0.4h0m0.2-2h0m0.4 1.3h0m0 1.6h0m0.1-1.6h0m0.1 1.5h0m0-0.9h0m0.1 1.2h0m0.5-1.9h0m0.2 1h0m0 1h0m0.8-1.1h0m1 0.5h0m0.9-1.1h0m0.1-0.7h0m0.1 0.7h0m1.8 0.2h0m0.1-4.1h0m0.3 1.7h0m0.1 1.9h0m2.3-2.6h0m0.6 1h0m0.2 0.4h0m0.7-2.2h0m0.7 2.9h0m0.3 0.1h0m0.9-2.4h0m1.7 1h0m1.1-1.2h0m3.2 0.4h0m0.5-1.1h0m0.4 2.4h0m0.1-0.2h0m0.9 0.2h0m1.7-1.3h0m0-0.1h0m31 2.5h0m0.1-2h0m0.4 2.4h0m1.1 0.6h0m1.3-2.4h0m0.1 0.7h0m0.8-0.3h0m0.4 1.2h0m0.1-0.2h0m0.3 0h0m0.4 1.2h0m0 0.7h0m0.8-4.2h0m1.4 0.2h0m0 2.5h0m0.1 0.9h0m0-1.1h0m0-0.4h0m5 0.9h0m0-0.1h0m0.3 1.5h0m1.6-5.6h0m0.1 3.3h0m0.1-2.7h0m1 3.9h0m0 1h0m0.2-0.7h0m0.1-3.5h0m0 3.6h0m2.7-1.3h0m0-0.2h0m0.6 1.8h0m0.6-2.9h0m1.5 3.1h0m0.5-1.9h0m4.7-1.6h0m0.2 3.6h0m0-3.6h0m0.1 1.6h0m0.1 1.5h0m0.1-5h0m0.7 3.8h0m0.8-3.6h0m0.7 3.2h0m0.5-3h0m0.2 2.5h0m0.1-0.3h0m0 0.9h0m0.1 2.3h0m0.2-1.8h0m0.9-1.7h0m0.3 1h0m0.6-2.8h0m0.4 0.4h0m0.5 1.2h0m1.1 3h0m0-0.2h0m0.3-0.6h0m0-0.5h0m0.8-0.1h0m0.5-2.1h0m0 0.2h0m0.2 0.8h0m1.5-1.4h0m0.1 4.2h0m0.1-1.5h0m0-2.8h0m0.5 1.3h0m0.2 2.3h0m1.2 1.2h0m0.9-4.5h0m0.2 3.8h0m0 0.2h0m0.2-2.4h0m1.3 1.7h0m0.3 0.5h0m0.5-0.6h0m0-1.8h0m1.1 1.3h0m3.3-0.5h0m0.8 0.4h0m0.8 0.7h0m2.4-1.2h0m0.3-1.2h0m0 0.6h0m0.9-2.3h0m0.8 3h0m1.1 1.1h0m0.1-4.1h0m0.1 4.8h0m0-1.7h0m0.2 0.2h0m0.1 1.6h0m0.3-2.7h0m2.4 2.2h0m0.3-3.2h0m0.1 1.6h0m0.9 2h0m0.1-3.1h0m0.2 2.9h0m1.3-3.7h0m0.1 2.3h0m0.7-3.4h0m0.4 1.4h0m0.1 2.1h0m1.7 1h0m0-1.9h0m0.9 1.2h0m2.6-3.3h0m3.4 2.7h0m3.1-0.3h0m0.7-1.4h0m3.9 3.8h0m0.9-1.9h0m1.1 1.7h0m1.5-3.2h0m2.4 3.1h0m7.8-3h0m4.7-0.2h0m4.6 3.5h0m10.9-2.2h0m28.8-0.5h0m-222 7.5h0m0.8-0.1h0m3.2 1.3h0m4.1-0.3h0m0.2-3.5h0m1.5 2.4h0m0-3.2h0m1.4 2.7h0m0.5 0.6h0m1.9 0.3h0m1.4-1.9h0m1.4-0.6h0m0.2-1.2h0m0.7 4.9h0m0.2-0.6h0m1.4-3.4h0m0.8 3h0m0.3-2.9h0m0 3h0m2.7-3h0m0.5-1.4h0m0.3 0.6h0m0.1-0.3h0m0.3 0.2h0m1.1 0.5h0m0.1-0.3h0m0.3-0.3h0m1.8 1.9h0m2.3-0.1h0m0.1-1.6h0m51.5 2h0m0.3 0.8h0m1.1-3.2h0m0.3 3.4h0m1.4-2.7h0m0 0.2h0m0.3 0.2h0m0.4 1.2h0m0 1.4h0m0.3 0.1h0m0.2-2.1h0m0.8-1.8h0m0.1 0.6h0m2.3-0.9h0m0 5h0m0.3-1.1h0m0.1-2.1h0m0.1 1.8h0m0.1-2.1h0m0.2 0.9h0m1.7-1.6h0m0-0.7h0m0.9 2.4h0m0.3 0.1h0m0.7-0.1h0m0.7-2.8h0m1.4 0.4h0m0.7 5.1h0m0.7-0.8h0m0.5-0.6h0m1.5-0.4h0m4 0.1h0m0.2 0h0m2.3-0.3h0m0.4 1.2h0m3.1-4.1h0m0.2 3.7h0m0.3-1h0m0-0.4h0m0.2-0.9h0m1.1 2.9h0m0.4-4.6h0m0.1 0.2h0m0-0.4h0m0 0.6h0m0.3 4.1h0m0.6-2.3h0m1.1-0.1h0m2-1.2h0m0.2-0.8h0m0.1 0h0m0.6 0.8h0m0.3-1.2h0m0.1 0.5h0m0.3 1.6h0m0.2-2.1h0m1.3 3.9h0m1.3-2.9h0m0.2 0.5h0m0.1-0.1h0m0.4-1.3h0m0 1.7h0m0.9 0.9h0m1.1 0.7h0m1.7 1.6h0m0-3.6h0m1.5-0.3h0m0.5 2.7h0m1-2.5h0m0.4 1.8h0m0.3-0.8h0m0 1.7h0m0.7-0.2h0m0.2-3.2h0m0.1 1.9h0m1 2.5h0m0.8-1.5h0m0.1-2.8h0m0.9 2.5h0m1.6 1.2h0m0.2-3.9h0m0.2 0.2h0m0.1-0.2h0m0.6 3h0m0.5-3.5h0m0.1 2.7h0m2.2-2.7h0m0.6 4.1h0m2.9-0.1h0m0.7-1.6h0m0-1.6h0m0.4-0.6h0m0.4 4.2h0m0.2-1.6h0m0.6 2.4h0m0.8-4.4h0m2.1 2.1h0m0.5 1.6h0m1.5-0.1h0m4 1h0m0.4-3.5h0m0.8 2.8h0m0.2 0.5h0m0.2-4.2h0m4-0.4h0m1.3 2.7h0m1-1h0m7.5 3.1h0m0.1-3.4h0m5.4-0.2h0m4.4-1.7h0m4.4 1.3h0m2.6 3h0m20.3-2.4h0m-219.6 7.7h0m13.5 1.4h0m2.5 0.7h0m0.4-1.4h0m2.5-2.6h0m0.5-0.3h0m0 3.5h0m1.3-2.3h0m0.3 1.2h0m1.1-3.5h0m0.8-0.4h0m10.5 1h0m0.9 0.5h0m1.4-1.1h0m66.9-0.4h0m8.8 1h0m0.9 0.3h0m0.8 0.5h0m1.4-0.7h0m0.6-1.1h0m4.6 0h0m4 0.4h0m2.5 0.8h0m0.8 2.6h0m0.2-1.2h0m0.5 2.1h0m1-3.2h0m0.1 3.2h0m1.3-1.7h0m0.3-1.1h0m0.4 0.1h0m0.2 3.2h0m0.5-3.4h0m0.7 2.4h0m1 1h0m0.2-4.7h0m0.1 2.9h0m0.1 0.9h0m1.3 0.1h0m0.7-3.5h0m0.3 4.8h0m0.3-4.4h0m0.1 0.2h0m0 0h0m2 1.6h0m1.6-0.5h0m0.1-2h0m1.3 2.6h0m0.6 0h0m0.4 0.2h0m0-3.3h0m0.3 1.9h0m1.3 3.7h0m0.4-3h0m0.5-0.3h0m0.2 2.5h0m0.3-2.8h0m0.7-0.7h0m0.4 0.4h0m0.7 1.1h0m1.1-1.7h0m0.3 3.6h0m1-3.4h0m0.2 4.3h0m0.2-2h0m0.8 1.8h0m1.3-5.6h0m1 0.1h0m0.9 1.8h0m2.1 1.8h0m0.7-1.9h0m0.6-0.3h0m0.4 2.4h0m0.9-1.4h0m0.4 2.9h0m0.5-3.8h0m0.8 0h0m2 3h0m1.1-2.8h0m0.5 2.5h0m5.3-2.2h0m1.1 3.8h0m1.1-5h0m0.5-0.2h0m3.6 1h0m9.3 2h0m6.3 1.7h0m-190.2 4.7h0m2.3 1.2h0m6.4 0.1h0m1.7-0.9h0m0.2-4.5h0m0 3.8h0m0.1-0.3h0m0.8 0.2h0m1.9 0.5h0m0.6-1.9h0m0.7 1.2h0m0.2-0.4h0m0 0.1h0m0.2-2.3h0m0.1 2.6h0m0.1-0.1h0m0.9 1.1h0m1-4.1h0m0.1 0.8h0m0.4 1.2h0m0.4 1h0m77.9 2.5h0m0.2-1.1h0m0.5-0.7h0m0.4 0.1h0m1 0.1h0m1.4 0.9h0m0.3-0.8h0m0.1 1.2h0m0.5-4.6h0m0.1 3.4h0m0.1-1.1h0m0.4-2.6h0m0.2 2.9h0m0.1-3.1h0m0.9 4.4h0m1.3-0.9h0m0.2-3h0m0.5 0.2h0m0.4 1.9h0m3.7 1.1h0m0.2-1.7h0m0.8-1.1h0m0.9-0.6h0m0.5 3.7h0m0.2 1.5h0m0.2-5.3h0m0.9 0.7h0m0.2 4.5h0m0-2h0m0.2-2.3h0m0.4-0.1h0m0.1 0.4h0m0.8 3.8h0m0.5-3.9h0m0 3h0m0.3-2.2h0m1.2 1.2h0m0.3-0.2h0m1.7 1.8h0m0.1-2.2h0m0 1.5h0m0.3-1.1h0m1.1-1.2h0m1.1 2.8h0m0.2-0.1h0m0.1-2.4h0m1.8-0.2h0m0.2 2.5h0m0.4-1.4h0m0.3 0.4h0m1.2-0.2h0m1.4-3.8h0m0.1 2.8h0m0.4-1.7h0m0 0.5h0m1 0.4h0m0.1 3.3h0m0.9-1.3h0m0.2-2.9h0m0.7 1.8h0m1.4-0.4h0m1.4-0.7h0m0.3 3.5h0m0-2.6h0m0.3 3.2h0m0.1-4.8h0m0.1 1h0m0.3-0.2h0m0.4 2h0m0.8-2.8h0m0.3 3.1h0m1.9 1.3h0m0.8-4.8h0m0.3 2.3h0m0.1-0.1h0m0.2 1h0m1.4-0.7h0m0.5 1.1h0m0.1-0.3h0m0.7 1.1h0m0.1-1h0m0.7 1.5h0m1.7-3.1h0m0.6-0.7h0m0.8-1.5h0m0.2 0h0m1 1.3h0m0 3.2h0m0.4 0.6h0m0.1-2.2h0m0.3-3.2h0m2.1 3.3h0m0.5-2h0m0.6 1.2h0m0.6 0.6h0m1.4-1.4h0m0.3-1.3h0m3.7 2.1h0m8.5 0h0m4.9 3.3h0m7.9-4.9h0m2.5 1.7h0m2.7 0.8h0m1.2 1.1h0m-177.7 1.6h0m0.2 5.5h0m0.1-4.2h0m1.5 1h0m0.6-0.1h0m0.2-1h0m0.3-0.9h0m2.2 2h0m0.1-2.3h0m0.3 3.7h0m0.4 0.1h0m0.4 1.2h0m2.6-0.1h0m0.6 0.6h0m0.5-2.5h0m1.8 2h0m78.6-5.1h0m0.3 1.1h0m0.7 0.5h0m2.4-1h0m0.2-0.2h0m0.2 4.2h0m0.6-3.7h0m0.2 0.4h0m0.4 2.7h0m0.3-0.3h0m0.2-2.5h0m0.3 2.4h0m0 0h0m1.5-0.5h0m1.5 1.3h0m4.2-0.4h0m0.5-0.3h0m1-1.9h0m0.4-1.4h0m0.1-0.1h0m0 3.1h0m0.2 1.6h0m0.4-1.8h0m0.2-2.9h0m0.2 3.2h0m0.7-3.2h0m0.8 2.5h0m0.2-1.6h0m0.2 3.5h0m0.3-1.2h0m0 0h0m0.1-2.2h0m0.3 0.9h0m1 0.8h0m0.4-1.2h0m0.5-1h0m0.1 2.9h0m1.1-2.7h0m0.1 4.4h0m0.1-4h0m0.5 4h0m0.1-1.4h0m0.4-0.1h0m0.3 1.3h0m0.2-0.5h0m0.1-2.5h0m0.8-1.7h0m1.1 3.4h0m0.6-2.7h0m0.4 4.7h0m0.1-1.9h0m0-1.6h0m0 2.5h0m0.1-2.3h0m1.5 2.6h0m0.4-5h0m0.7 3.4h0m0.3-2.4h0m0.7 0.5h0m0.1-1.1h0m2.1 2.6h0m0.1-2.6h0m0.1 0.1h0m0 4.6h0m0.2-2.4h0m0-0.6h0m0.2-1.2h0m2 0.5h0m0.1 2h0m0.1 2.3h0m0.6-2.4h0m1.1 0h0m0.6-0.3h0m0.6 1.4h0m0.8-3.9h0m0.3 2h0m0.4-0.5h0m0.5-0.9h0m0.8-1h0m0.4 2.9h0m0.3-1.2h0m0.5 0.6h0m0.9-1.5h0m0.8 4.4h0m0.2-1.3h0m0.4 1.1h0m0.9 0.6h0m1-4.1h0m1.1 3.3h0m0 0.4h0m2.1-1.7h0m1.1-1.7h0m0 3.4h0m2.2-2.4h0m0-1.5h0m7.5 0.2h0m0.4 0h0m0.3 1.5h0m4.1-1.4h0m1.8-0.4h0m11.9-1.3h0m1 0.8h0m3.2 4.1h0m1.9-0.8h0m15-2h0m-183.5 7.7h0m0.2-3.6h0m4.3 0.1h0m0.4 0.2h0m1 0.8h0m1.8 0.7h0m0.2 2.3h0m0.9-0.9h0m0.7-0.4h0m0.3-0.4h0m1.4 2h0m0.2-2.7h0m1 1.4h0m1.1 1.7h0m0.4 0.1h0m1.5-1.5h0m1 0.1h0m0.2-0.3h0m1-1.9h0m0.1 3.8h0m0-1.7h0m0.4-0.4h0m0 0h0m0.5 1.7h0m0.2-0.3h0m0.4-0.2h0m0-3.8h0m0.4 3.5h0m0.2-0.3h0m0-0.3h0m0-0.1h0m0.1-2.9h0m0.3 3.2h0m0.2-2.8h0m0.1 0.2h0m0.4 0.9h0m1 2.7h0m0.1 0.4h0m65.4-4.9h0m1.2 0.6h0m1.2-0.8h0m1.5 0h0m0.2 0h0m0.2-0.1h0m4.3 0.3h0m0.3 5.4h0m0-5h0m0.3 2.8h0m0.3 0.7h0m0.1-1.1h0m0.3 2.8h0m0.4-3.9h0m0.4-1.7h0m0.7 1.3h0m0.7 0.4h0m0.4 3.7h0m0.1-1h0m0.2-0.5h0m0.6 1.4h0m0.8-3.8h0m0.2 0h0m0.4-0.7h0m0.2 1.6h0m0.2-2.5h0m0.2 1.6h0m0.6 1.1h0m0.1-1.5h0m0.5 4.5h0m0.2-5.1h0m0.1 0.4h0m1 4.3h0m0.3-3.2h0m0.1-1.5h0m0.7 1.9h0m0-2.2h0m1.6 2.4h0m0.4-0.2h0m0.1 1.1h0m0.7-0.1h0m0.8 0.2h0m2.1-3.9h0m0.1 0.4h0m0.6 0.6h0m0.4 3.6h0m2.3-1.4h0m0.9-0.8h0m0.7-0.2h0m2.4 2.1h0m2.2 1.2h0m0.1-2.7h0m2.3 0.1h0m0.5-0.1h0m1 0.5h0m0.8-0.3h0m2.8 2.6h0m1.7-5.2h0m1.1 0.9h0m2.4 2.2h0m5.6 1.1h0m4.6-2.3h0m3.1-1.6h0m4.5 3.2h0m-147.7 3.6h0m0.3-0.6h0m1.3 3.7h0m0.4-4.6h0m1.5 1.5h0m1.3-1.1h0m1.6-0.4h0m1.7 1.2h0m0.8 2.5h0m2.5 0.2h0m0.2 0.9h0m1.8-3.6h0m0.5 3.7h0m0.5-4.6h0m0.6 2.6h0m0.7-1.9h0m0.3 2.5h0m0.9 1.6h0m0.2-5.1h0m0.9 5.2h0m1-0.7h0m0.7-0.5h0m0.2 1.3h0m0.2 0.5h0m0.1-3.8h0m1.8-0.8h0m0 1h0m0 3.4h0m0.3-3.7h0m0.3-1.8h0m1.9 5h0m0.5-3.9h0m0.3 2.5h0m0.2-2.1h0m0.1 1.3h0m0.4 2.3h0m0.1-3.2h0m0.5 3h0m0.1-4.7h0m1.2 3.7h0m0.5 0.4h0m0.4-2.5h0m1.6 3.7h0m0.4 0.1h0m6.1-0.8h0m1.1-0.7h0m2.2 1.1h0m9.4 0.3h0m2.2-0.5h0m16.4 0.2h0m2-0.8h0m1.5 1.2h0m10.2-0.5h0m0.9-0.6h0m0-1.5h0m0.2 1.1h0m0.1-2.9h0m1.1 3.3h0m1.4-2.8h0m0.8 2h0m0.2-0.8h0m0.2-0.6h0m0.5 1.3h0m0.3 0.4h0m1-3h0m0.7-0.6h0m0.9 2.6h0m0.9 0.5h0m0.3-2.8h0m0.3-0.7h0m0 3.2h0m0.4-0.4h0m0.3 0.2h0m0.4 2.2h0m0-4.6h0m0.3 2h0m0.3 3.1h0m0.1-5.5h0m0.1 0h0m2.2 0.6h0m0.1 2.6h0m0.1-3.3h0m1.1 5.2h0m0.8-3.2h0m0.1 3.2h0m2.2-3.6h0m0.1-0.6h0m0.1 2.1h0m0.7-2.7h0m0.3 1.9h0m1.7-0.6h0m1 3.3h0m0.7-0.2h0m0-2.6h0m0.5-1.8h0m1.2 2.8h0m0.2-1.2h0m0.1 0.6h0m0.2 2.5h0m0.1-4.3h0m0.4-0.5h0m0-0.3h0m0.5 5.5h0m1.8-3.4h0m0.4-0.8h0m2.1-1.5h0m2.6 5.5h0m0.8 0.1h0m3.4-1.9h0m1.2 0h0m7.8-0.2h0m0.4-1.2h0m0.6 0.1h0m2.6 0.2h0m0.3 0.8h0m5.9-1h0m11.5-1.9h0m-152.7 5.5h0m13.2 0.5h0m5.2 1.2h0m1.9 2.5h0m2.5-1.3h0m1.3 0.6h0m1.8-2.4h0m3.4 0.6h0m1.5 2.2h0m0-3.3h0m0.1 1.7h0m0.1 0.6h0m3 2.2h0m1.2-4.2h0m0.4 1.2h0m0.8-1.4h0m0.4 0.1h0m0.7-0.4h0m0.8 4.6h0m0.7-4.6h0m0.3 3.9h0m0.6-4.3h0m0.4-0.1h0m0.1 1.4h0m1.1 0.8h0m0.1 0.4h0m0.5 0.5h0m0-1.5h0m0 2.4h0m0.3-3h0m1.2 0.2h0m0.1 0.4h0m0 1.8h0m0-3.1h0m0 1.8h0m0.1-1.2h0m0.2 0.9h0m0.1-0.8h0m0.4 0.1h0m1.2 3.5h0m0.3-0.9h0m0.3-2.8h0m0 2.3h0m0.5-0.4h0m1.5 2.1h0m0.5-0.6h0m1.5-2.4h0m0.1 1.4h0m0.2-1.6h0m0.4-0.4h0m0.2 4.6h0m1.4-0.8h0m0.1-4.8h0m1.2 3.6h0m0.3 0.1h0m0.4 0h0m0.3 2h0m1-0.2h0m0.4-4.2h0m0-1.1h0m0.1 0h0m1.3 0.9h0m0.8 3.7h0m0.4-2.3h0m0.3 0.4h0m0 2.3h0m1.1 0.1h0m0.6-0.6h0m0.2 0h0m0.8-1.3h0m0.4 0.2h0m2.5-1.2h0m1.3 0.6h0m0.9-0.7h0m1.5 0.8h0m0.2 1.9h0m0.3 0.7h0m0.4-2.5h0m0.3-0.2h0m2 2.3h0m0-3.3h0m0.2 0.1h0m0.2 1.2h0m0.3-1h0m0 1.5h0m0.1 1.4h0m0.6 0.5h0m0.2-3.9h0m0-0.8h0m0.1 3.8h0m0.2-2.5h0m0.7 1.5h0m0 0.5h0m0 0.3h0m0.4 0.2h0m0.3-0.6h0m0.3 0.4h0m0.4-2.2h0m0.7-2h0m2.5 4.4h0m1-1h0m1.1 0.1h0m1 0.1h0m0.8 0.2h0m1.7 1h0m0.6 0.4h0m1-4.1h0m1.1 2.8h0m0.3-3h0m0.3-1.2h0m0 0.5h0m1.5 0.9h0m0.1 2.3h0m0.1 0.4h0m0.1-1.5h0m0 1.6h0m0.4-1.2h0m0.3-2h0m0.3 4.1h0m0.1-3.5h0m0.1-1h0m0.3 0.4h0m0.8-1.1h0m0.5 1.3h0m1.5 3.7h0m0-1.5h0m0.4-1.9h0m0.2 0.7h0m0.1-0.9h0m0.5 2.8h0m0.5-0.7h0m0.5-3.1h0m0 4.6h0m0.5-0.8h0m2.4-3.5h0m0-0.9h0m2.7 0.1h0m0.4 5.3h0m0.2-3.7h0m2.7 3.9h0m0.3 0.1h0m0.7-3h0m0.5 2.1h0m2.7-4h0m1.4 0h0m1.1 0.7h0m0.5 2.3h0m0.6-0.8h0m0.9-0.3h0m2.1 3.1h0m5.3-5.5h0m1.4 1.2h0m1.5-1.4h0m2.2 5.8h0m7.5-4.2h0m2.5-1.7h0m5.5 2.2h0m-125 6.1h0m9.6 0.1h0m0.9-0.5h0m1.1-1.5h0m3.6 3.3h0m1.1-1.8h0m4.7-0.3h0m2.7 3.1h0m0.2-2.7h0m3.3 0h0m2.1-0.7h0m0.9-0.9h0m0.5 2.8h0m1.3-1.3h0m5.3-1.3h0m2.6 1.5h0m0.6-1.9h0m1.3 1.6h0m0.1-1.7h0m0.5 4.2h0m1.2-4.1h0m3.5 0.9h0m0.4-1h0m0.1 4.8h0m1.1-4.7h0m0.2 1.6h0m2.2-1.9h0m4.1 3.9h0m0.3-3.4h0m0.9 3.6h0m2.1 0.7h0m0.1 0.6h0m1.5-5h0m0.1 2.4h0m0.3 0.4h0m0.2-2.9h0m0.3 0h0m0.6-0.2h0m1.3 1.8h0m1.2-0.4h0m0.7 3h0m1.6-2.1h0m4.2-2.3h0m0.3 3.7h0m1.3-2h0m4.2-1.7h0m0.2 0h0m0.7 5.9h0m0.9-0.1h0m1-5.4h0m4.6 1.1h0m16 1.7h0m5.1 1h0m13.2-0.9h0m10 0.2h0m-102.6 5.9h0m20.1-0.2h0m9.5-0.6h0m19.7 1.9h0m0.5-2h0m9.8 0.6h0m10.8 0.9h0m0.6 0.3h0m-24.2 6.4h0m1.2-3.3h0m0.1 1.5h0m0-2h0m2.4 1.2h0m3.6-1.3h0m2.2-0.9h0m1.3 1.6h0m8 1.2h0m-15.7 4.5h0" stroke="#808080" stroke-width="2.6" stroke-linecap="round" fill="none"/>
<path d="M530.30 314.2V1.5M402.7 155.30H688.7" stroke="#3a3a3a" stroke-width="1.4" stroke-dasharray="3.3 1.682" fill="none"/>
<path d="M402.7 229.40L688.7 99.90" stroke="#0000ff" stroke-width="2.2"/>
<path d="M402.7 212.87L688.7 177.26" stroke="#ff0000" stroke-width="2.2"/>
</g>
<g class="t">
<rect x="228.10" y="244.0" width="111.10" height="63.30" rx="2.8" fill="#fff" fill-opacity="0.8" stroke="#d0d0d0" stroke-width="1.1"/>
<path d="M231.9 254.8H260.3" stroke="#0000ff" stroke-width="2.0"/>
<path d="M231.9 274.7H260.3" stroke="#ff0000" stroke-width="2.0"/>
<path d="M233.0 294.8H260.3" stroke="#3a3a3a" stroke-width="1.4" stroke-dasharray="3.0 1.95"/>
<text transform="translate(270.20 259.80) scale(0.8607 1)" x="1.28" y="0" font-size="14.2" font-style="italic">y</text>
<text transform="translate(282.80 259.80) scale(1.3644 1)" x="-0.57" y="0" font-size="14.2">=</text>
<text transform="translate(298.00 259.80) scale(1.0870 1)" x="0.28" y="0" font-size="14.2" font-style="italic">x</text>
<text transform="translate(307.30 261.30) scale(1.3330 1)" x="-0.00" y="0" font-size="14.2">/</text>
<text transform="translate(314.20 259.80) scale(1.0774 1)" x="-0.71" y="0" font-size="14.2">5.5</text>
<text transform="translate(270.20 279.60) scale(0.8607 1)" x="1.28" y="0" font-size="14.2" font-style="italic">y</text>
<text transform="translate(282.80 279.60) scale(1.3644 1)" x="-0.57" y="0" font-size="14.2">=</text>
<text transform="translate(298.00 279.60) scale(1.0870 1)" x="0.28" y="0" font-size="14.2" font-style="italic">x</text>
<text transform="translate(307.30 281.10) scale(1.3330 1)" x="-0.00" y="0" font-size="14.2">/</text>
<text transform="translate(314.20 279.60) scale(1.0147 1)" x="-0.57" y="0" font-size="14.2">20</text>
<text transform="translate(270.00 299.60) scale(0.9663 1)" x="-0.57" y="0" font-size="14.2">3</text>
<text transform="translate(281.80 299.60) scale(1.3246 1)" x="-0.99" y="0" font-size="14.2">×</text>
<path d="M300.4 290.2L297.2 296.4L300.4 302.6" stroke="#000" stroke-width="0.75" fill="none"/>
<path d="M327.2 290.2L330.4 296.4L327.2 302.6" stroke="#000" stroke-width="0.75" fill="none"/>
<text transform="translate(302.00 299.60) scale(1.0632 1)" x="-0.28" y="0" font-size="14.2" font-style="italic">σ</text>
<text transform="translate(310.60 301.40) scale(1.2999 1)" x="-0.21" y="0" font-size="10.6">int</text>
<rect x="571.40" y="244.0" width="111.10" height="63.30" rx="2.8" fill="#fff" fill-opacity="0.8" stroke="#d0d0d0" stroke-width="1.1"/>
<path d="M575.2 254.8H603.6" stroke="#0000ff" stroke-width="2.0"/>
<path d="M575.2 274.7H603.6" stroke="#ff0000" stroke-width="2.0"/>
<path d="M576.3 294.8H603.6" stroke="#3a3a3a" stroke-width="1.4" stroke-dasharray="3.0 1.95"/>
<text transform="translate(613.50 259.80) scale(0.8607 1)" x="1.28" y="0" font-size="14.2" font-style="italic">y</text>
<text transform="translate(626.10 259.80) scale(1.3644 1)" x="-0.57" y="0" font-size="14.2">=</text>
<text transform="translate(641.30 259.80) scale(1.0870 1)" x="0.28" y="0" font-size="14.2" font-style="italic">x</text>
<text transform="translate(650.60 261.30) scale(1.3330 1)" x="-0.00" y="0" font-size="14.2">/</text>
<text transform="translate(657.50 259.80) scale(1.0774 1)" x="-0.71" y="0" font-size="14.2">5.5</text>
<text transform="translate(613.50 279.60) scale(0.8607 1)" x="1.28" y="0" font-size="14.2" font-style="italic">y</text>
<text transform="translate(626.10 279.60) scale(1.3644 1)" x="-0.57" y="0" font-size="14.2">=</text>
<text transform="translate(641.30 279.60) scale(1.0870 1)" x="0.28" y="0" font-size="14.2" font-style="italic">x</text>
<text transform="translate(650.60 281.10) scale(1.3330 1)" x="-0.00" y="0" font-size="14.2">/</text>
<text transform="translate(657.50 279.60) scale(1.0147 1)" x="-0.57" y="0" font-size="14.2">20</text>
<text transform="translate(613.30 299.60) scale(0.9663 1)" x="-0.57" y="0" font-size="14.2">3</text>
<text transform="translate(625.10 299.60) scale(1.3246 1)" x="-0.99" y="0" font-size="14.2">×</text>
<path d="M643.7 290.2L640.5 296.4L643.7 302.6" stroke="#000" stroke-width="0.75" fill="none"/>
<path d="M670.5 290.2L673.7 296.4L670.5 302.6" stroke="#000" stroke-width="0.75" fill="none"/>
<text transform="translate(645.30 299.60) scale(1.0632 1)" x="-0.28" y="0" font-size="14.2" font-style="italic">σ</text>
<text transform="translate(653.90 301.40) scale(1.2999 1)" x="-0.21" y="0" font-size="10.6">int</text>
</g>
<rect x="59.4" y="1.5" width="286.00" height="312.70" fill="none" stroke="#151515" stroke-width="1.35"/>
<rect x="402.70" y="1.5" width="286.00" height="312.70" fill="none" stroke="#151515" stroke-width="1.35"/>
<g class="t">
<path d="M71.50 314.2v-2.8M71.50 1.5v2.8M90.50 314.2v-2.8M90.50 1.5v2.8M109.50 314.2v-5.5M109.50 1.5v5.5M129.50 314.2v-2.8M129.50 1.5v2.8M148.50 314.2v-2.8M148.50 1.5v2.8M167.50 314.2v-2.8M167.50 1.5v2.8M187.50 314.2v-2.8M187.50 1.5v2.8M206.50 314.2v-5.5M206.50 1.5v5.5M225.50 314.2v-2.8M225.50 1.5v2.8M245.50 314.2v-2.8M245.50 1.5v2.8M264.50 314.2v-2.8M264.50 1.5v2.8M284.50 314.2v-2.8M284.50 1.5v2.8M303.50 314.2v-5.5M303.50 1.5v5.5M322.50 314.2v-2.8M322.50 1.5v2.8M342.50 314.2v-2.8M342.50 1.5v2.8M59.4 312.50h2.8M345.4 312.50h-2.8M59.4 303.50h5.5M345.4 303.50h-5.5M59.4 293.50h2.8M345.4 293.50h-2.8M59.4 283.50h2.8M345.4 283.50h-2.8M59.4 274.50h2.8M345.4 274.50h-2.8M59.4 264.50h2.8M345.4 264.50h-2.8M59.4 254.50h5.5M345.4 254.50h-5.5M59.4 245.50h2.8M345.4 245.50h-2.8M59.4 235.50h2.8M345.4 235.50h-2.8M59.4 225.50h2.8M345.4 225.50h-2.8M59.4 216.50h2.8M345.4 216.50h-2.8M59.4 206.50h5.5M345.4 206.50h-5.5M59.4 196.50h2.8M345.4 196.50h-2.8M59.4 187.50h2.8M345.4 187.50h-2.8M59.4 177.50h2.8M345.4 177.50h-2.8M59.4 168.50h2.8M345.4 168.50h-2.8M59.4 158.50h5.5M345.4 158.50h-5.5M59.4 148.50h2.8M345.4 148.50h-2.8M59.4 139.50h2.8M345.4 139.50h-2.8M59.4 129.50h2.8M345.4 129.50h-2.8M59.4 119.50h2.8M345.4 119.50h-2.8M59.4 110.50h5.5M345.4 110.50h-5.5M59.4 100.50h2.8M345.4 100.50h-2.8M59.4 90.50h2.8M345.4 90.50h-2.8M59.4 81.50h2.8M345.4 81.50h-2.8M59.4 71.50h2.8M345.4 71.50h-2.8M59.4 61.50h5.5M345.4 61.50h-5.5M59.4 52.50h2.8M345.4 52.50h-2.8M59.4 42.50h2.8M345.4 42.50h-2.8M59.4 32.50h2.8M345.4 32.50h-2.8M59.4 23.50h2.8M345.4 23.50h-2.8M59.4 13.50h5.5M345.4 13.50h-5.5M59.4 3.50h2.8M345.4 3.50h-2.8" stroke="#1a1a1a" stroke-width="1.0" fill="none"/>
<text x="104.82" y="333.90" font-size="18.7">0</text>
<text x="201.29" y="333.90" font-size="18.7">5</text>
<text x="292.63" y="333.90" font-size="18.7">10</text>
<text x="52.20" y="309.63" font-size="18.7" text-anchor="end">2</text>
<path d="M29.00 304.63H40.10" stroke="#000" stroke-width="0.9"/>
<text x="52.20" y="261.39" font-size="18.7" text-anchor="end">1</text>
<path d="M29.00 256.39H40.10" stroke="#000" stroke-width="0.9"/>
<text x="52.20" y="213.15" font-size="18.7" text-anchor="end">0</text>
<text x="52.20" y="164.91" font-size="18.7" text-anchor="end">1</text>
<text x="52.20" y="116.67" font-size="18.7" text-anchor="end">2</text>
<text x="52.20" y="68.43" font-size="18.7" text-anchor="end">3</text>
<text x="52.20" y="20.19" font-size="18.7" text-anchor="end">4</text>
<path d="M414.50 314.2v-2.8M414.50 1.5v2.8M433.50 314.2v-2.8M433.50 1.5v2.8M453.50 314.2v-5.5M453.50 1.5v5.5M472.50 314.2v-2.8M472.50 1.5v2.8M491.50 314.2v-2.8M491.50 1.5v2.8M511.50 314.2v-2.8M511.50 1.5v2.8M530.50 314.2v-2.8M530.50 1.5v2.8M549.50 314.2v-5.5M549.50 1.5v5.5M569.50 314.2v-2.8M569.50 1.5v2.8M588.50 314.2v-2.8M588.50 1.5v2.8M608.50 314.2v-2.8M608.50 1.5v2.8M627.50 314.2v-2.8M627.50 1.5v2.8M646.50 314.2v-5.5M646.50 1.5v5.5M666.50 314.2v-2.8M666.50 1.5v2.8M685.50 314.2v-2.8M685.50 1.5v2.8M402.7 312.50h2.8M688.7 312.50h-2.8M402.7 303.50h5.5M688.7 303.50h-5.5M402.7 293.50h2.8M688.7 293.50h-2.8M402.7 283.50h2.8M688.7 283.50h-2.8M402.7 274.50h2.8M688.7 274.50h-2.8M402.7 264.50h2.8M688.7 264.50h-2.8M402.7 254.50h5.5M688.7 254.50h-5.5M402.7 245.50h2.8M688.7 245.50h-2.8M402.7 235.50h2.8M688.7 235.50h-2.8M402.7 225.50h2.8M688.7 225.50h-2.8M402.7 216.50h2.8M688.7 216.50h-2.8M402.7 206.50h5.5M688.7 206.50h-5.5M402.7 196.50h2.8M688.7 196.50h-2.8M402.7 187.50h2.8M688.7 187.50h-2.8M402.7 177.50h2.8M688.7 177.50h-2.8M402.7 168.50h2.8M688.7 168.50h-2.8M402.7 158.50h5.5M688.7 158.50h-5.5M402.7 148.50h2.8M688.7 148.50h-2.8M402.7 139.50h2.8M688.7 139.50h-2.8M402.7 129.50h2.8M688.7 129.50h-2.8M402.7 119.50h2.8M688.7 119.50h-2.8M402.7 110.50h5.5M688.7 110.50h-5.5M402.7 100.50h2.8M688.7 100.50h-2.8M402.7 90.50h2.8M688.7 90.50h-2.8M402.7 81.50h2.8M688.7 81.50h-2.8M402.7 71.50h2.8M688.7 71.50h-2.8M402.7 61.50h5.5M688.7 61.50h-5.5M402.7 52.50h2.8M688.7 52.50h-2.8M402.7 42.50h2.8M688.7 42.50h-2.8M402.7 32.50h2.8M688.7 32.50h-2.8M402.7 23.50h2.8M688.7 23.50h-2.8M402.7 13.50h5.5M688.7 13.50h-5.5M402.7 3.50h2.8M688.7 3.50h-2.8" stroke="#1a1a1a" stroke-width="1.0" fill="none"/>
<text x="448.13" y="333.90" font-size="18.7">0</text>
<text x="544.59" y="333.90" font-size="18.7">5</text>
<text x="635.93" y="333.90" font-size="18.7">10</text>
<text x="395.50" y="309.63" font-size="18.7" text-anchor="end">2</text>
<path d="M372.30 304.63H383.40" stroke="#000" stroke-width="0.9"/>
<text x="395.50" y="261.39" font-size="18.7" text-anchor="end">1</text>
<path d="M372.30 256.39H383.40" stroke="#000" stroke-width="0.9"/>
<text x="395.50" y="213.15" font-size="18.7" text-anchor="end">0</text>
<text x="395.50" y="164.91" font-size="18.7" text-anchor="end">1</text>
<text x="395.50" y="116.67" font-size="18.7" text-anchor="end">2</text>
<text x="395.50" y="68.43" font-size="18.7" text-anchor="end">3</text>
<text x="395.50" y="20.19" font-size="18.7" text-anchor="end">4</text>
<text transform="translate(45.60 354.00) scale(1.0979 1)" x="-1.05" y="0" font-size="13.1">13</text>
<text transform="translate(61.00 361.20) scale(0.9715 1)" x="-0.82" y="0" font-size="20.4">CO</text>
<text transform="translate(94.70 361.20) scale(1.0089 1)" x="-0.61" y="0" font-size="20.4">Integrated</text>
<text transform="translate(185.50 361.20) scale(0.9890 1)" x="-0.61" y="0" font-size="20.4">Intensity</text>
<text x="263.18" y="361.20" font-size="20.4">(</text>
<text transform="translate(270.00 361.20) scale(1.0224 1)" x="-0.41" y="0" font-size="20.4">K</text>
<text transform="translate(292.10 361.20) scale(0.9181 1)" x="-0.20" y="0" font-size="20.4">km</text>
<text transform="translate(323.00 361.20) scale(1.0417 1)" x="-0.82" y="0" font-size="20.4">s</text>
<path d="M332.00 350.60H340.10" stroke="#000" stroke-width="0.85"/>
<text transform="translate(343.10 354.00) scale(0.9118 1)" x="-1.05" y="0" font-size="13.1">1</text>
<text x="350.39" y="361.20" font-size="20.4">)</text>
<text transform="translate(388.90 354.00) scale(1.0979 1)" x="-1.05" y="0" font-size="13.1">13</text>
<text transform="translate(404.30 361.20) scale(0.9715 1)" x="-0.82" y="0" font-size="20.4">CO</text>
<text transform="translate(438.00 361.20) scale(1.0089 1)" x="-0.61" y="0" font-size="20.4">Integrated</text>
<text transform="translate(528.80 361.20) scale(0.9890 1)" x="-0.61" y="0" font-size="20.4">Intensity</text>
<text x="606.48" y="361.20" font-size="20.4">(</text>
<text transform="translate(613.30 361.20) scale(1.0224 1)" x="-0.41" y="0" font-size="20.4">K</text>
<text transform="translate(635.40 361.20) scale(0.9181 1)" x="-0.20" y="0" font-size="20.4">km</text>
<text transform="translate(666.30 361.20) scale(1.0417 1)" x="-0.82" y="0" font-size="20.4">s</text>
<path d="M675.30 350.60H683.40" stroke="#000" stroke-width="0.85"/>
<text transform="translate(686.40 354.00) scale(0.9118 1)" x="-1.05" y="0" font-size="13.1">1</text>
<text x="693.69" y="361.20" font-size="20.4">)</text>
<g transform="matrix(0 -1 1 0 -344.00 360.40)">
<text transform="translate(44.90 361.20) scale(1.0565 1)" x="-0.82" y="0" font-size="20.4">C</text>
<text transform="translate(58.00 354.00) scale(1.1236 1)" x="-1.05" y="0" font-size="13.1">18</text>
<text transform="translate(73.40 361.20) scale(1.0332 1)" x="-0.82" y="0" font-size="20.4">O</text>
<text transform="translate(94.70 361.20) scale(1.0089 1)" x="-0.61" y="0" font-size="20.4">Integrated</text>
<text transform="translate(185.50 361.20) scale(0.9890 1)" x="-0.61" y="0" font-size="20.4">Intensity</text>
<text x="263.18" y="361.20" font-size="20.4">(</text>
<text transform="translate(270.00 361.20) scale(1.0224 1)" x="-0.41" y="0" font-size="20.4">K</text>
<text transform="translate(292.10 361.20) scale(0.9181 1)" x="-0.20" y="0" font-size="20.4">km</text>
<text transform="translate(323.00 361.20) scale(1.0417 1)" x="-0.82" y="0" font-size="20.4">s</text>
<path d="M332.00 350.60H340.10" stroke="#000" stroke-width="0.85"/>
<text transform="translate(343.10 354.00) scale(0.9118 1)" x="-1.05" y="0" font-size="13.1">1</text>
<text x="350.39" y="361.20" font-size="20.4">)</text>
</g>
</g>
</svg>
</body></html>
